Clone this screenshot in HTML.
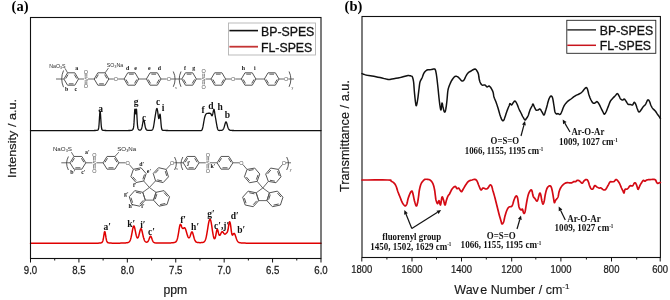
<!DOCTYPE html>
<html><head><meta charset="utf-8"><title>NMR and FTIR spectra of BP-SPES and FL-SPES</title>
<style>html,body{margin:0;padding:0;background:#fff;width:670px;height:300px;overflow:hidden}svg{display:block}</style>
</head><body>
<svg width="670" height="300" viewBox="0 0 670 300">
<rect width="670" height="300" fill="#fff"/>
<text x="11.6" y="11.3" font-family="'Liberation Serif', 'Times New Roman', serif" font-weight="bold" font-size="14.5">(a)</text>
<text x="344.6" y="11.3" font-family="'Liberation Serif', 'Times New Roman', serif" font-weight="bold" font-size="14.5">(b)</text>
<g><path d="M78.5 79 L74.85 85.2 L67.55 85.2 L63.9 79 L67.55 72.8 L74.85 72.8Z" fill="none" stroke="#555555" stroke-width="1.0"/><line x1="73.54" y1="83.85" x2="68.86" y2="83.85" stroke="#555555" stroke-width="1.0"/><line x1="65.73" y1="78.55" x2="68.07" y2="74.58" stroke="#555555" stroke-width="1.0"/><line x1="74.33" y1="74.58" x2="76.67" y2="78.55" stroke="#555555" stroke-width="1.0"/><text x="86" y="81" font-size="5.5" fill="#555" text-anchor="middle" font-family="'Liberation Sans', Arial, sans-serif" font-weight="normal">S</text><line x1="85.2" y1="76.8" x2="85.2" y2="73.9" stroke="#555555" stroke-width="0.7"/><line x1="86.8" y1="76.8" x2="86.8" y2="73.9" stroke="#555555" stroke-width="0.7"/><text x="86" y="73.68" font-size="5.5" fill="#555" text-anchor="middle" font-family="'Liberation Sans', Arial, sans-serif" font-weight="normal">O</text><line x1="85.2" y1="81.2" x2="85.2" y2="84.1" stroke="#555555" stroke-width="0.7"/><line x1="86.8" y1="81.2" x2="86.8" y2="84.1" stroke="#555555" stroke-width="0.7"/><text x="86" y="88.28" font-size="5.5" fill="#555" text-anchor="middle" font-family="'Liberation Sans', Arial, sans-serif" font-weight="normal">O</text><path d="M108.8 79 L105.15 85.2 L97.85 85.2 L94.2 79 L97.85 72.8 L105.15 72.8Z" fill="none" stroke="#555555" stroke-width="1.0"/><line x1="103.84" y1="83.85" x2="99.16" y2="83.85" stroke="#555555" stroke-width="1.0"/><line x1="96.03" y1="78.55" x2="98.37" y2="74.58" stroke="#555555" stroke-width="1.0"/><line x1="104.63" y1="74.58" x2="106.97" y2="78.55" stroke="#555555" stroke-width="1.0"/><text x="116" y="80.98" font-size="5.5" fill="#555" text-anchor="middle" font-family="'Liberation Sans', Arial, sans-serif" font-weight="normal">O</text><path d="M138.7 79 L135.05 85.2 L127.75 85.2 L124.1 79 L127.75 72.8 L135.05 72.8Z" fill="none" stroke="#555555" stroke-width="1.0"/><line x1="136.87" y1="79.45" x2="134.53" y2="83.42" stroke="#555555" stroke-width="1.0"/><line x1="128.27" y1="83.42" x2="125.93" y2="79.45" stroke="#555555" stroke-width="1.0"/><line x1="129.06" y1="74.15" x2="133.74" y2="74.15" stroke="#555555" stroke-width="1.0"/><path d="M161 79 L157.35 85.2 L150.05 85.2 L146.4 79 L150.05 72.8 L157.35 72.8Z" fill="none" stroke="#555555" stroke-width="1.0"/><line x1="159.17" y1="79.45" x2="156.83" y2="83.42" stroke="#555555" stroke-width="1.0"/><line x1="150.57" y1="83.42" x2="148.23" y2="79.45" stroke="#555555" stroke-width="1.0"/><line x1="151.36" y1="74.15" x2="156.04" y2="74.15" stroke="#555555" stroke-width="1.0"/><text x="168.9" y="80.98" font-size="5.5" fill="#555" text-anchor="middle" font-family="'Liberation Sans', Arial, sans-serif" font-weight="normal">O</text><path d="M196.4 79 L192.75 85.2 L185.45 85.2 L181.8 79 L185.45 72.8 L192.75 72.8Z" fill="none" stroke="#555555" stroke-width="1.0"/><line x1="194.57" y1="79.45" x2="192.23" y2="83.42" stroke="#555555" stroke-width="1.0"/><line x1="185.97" y1="83.42" x2="183.63" y2="79.45" stroke="#555555" stroke-width="1.0"/><line x1="186.76" y1="74.15" x2="191.44" y2="74.15" stroke="#555555" stroke-width="1.0"/><text x="203.6" y="81" font-size="5.5" fill="#555" text-anchor="middle" font-family="'Liberation Sans', Arial, sans-serif" font-weight="normal">S</text><line x1="202.8" y1="76.8" x2="202.8" y2="73.6" stroke="#555555" stroke-width="0.7"/><line x1="204.4" y1="76.8" x2="204.4" y2="73.6" stroke="#555555" stroke-width="0.7"/><text x="203.6" y="73.38" font-size="5.5" fill="#555" text-anchor="middle" font-family="'Liberation Sans', Arial, sans-serif" font-weight="normal">O</text><line x1="202.8" y1="81.2" x2="202.8" y2="84.4" stroke="#555555" stroke-width="0.7"/><line x1="204.4" y1="81.2" x2="204.4" y2="84.4" stroke="#555555" stroke-width="0.7"/><text x="203.6" y="88.58" font-size="5.5" fill="#555" text-anchor="middle" font-family="'Liberation Sans', Arial, sans-serif" font-weight="normal">O</text><path d="M225.6 79 L221.95 85.2 L214.65 85.2 L211 79 L214.65 72.8 L221.95 72.8Z" fill="none" stroke="#555555" stroke-width="1.0"/><line x1="223.77" y1="79.45" x2="221.43" y2="83.42" stroke="#555555" stroke-width="1.0"/><line x1="215.17" y1="83.42" x2="212.83" y2="79.45" stroke="#555555" stroke-width="1.0"/><line x1="215.96" y1="74.15" x2="220.64" y2="74.15" stroke="#555555" stroke-width="1.0"/><text x="233.1" y="80.98" font-size="5.5" fill="#555" text-anchor="middle" font-family="'Liberation Sans', Arial, sans-serif" font-weight="normal">O</text><path d="M255.9 79 L252.25 85.2 L244.95 85.2 L241.3 79 L244.95 72.8 L252.25 72.8Z" fill="none" stroke="#555555" stroke-width="1.0"/><line x1="254.07" y1="79.45" x2="251.73" y2="83.42" stroke="#555555" stroke-width="1.0"/><line x1="245.47" y1="83.42" x2="243.13" y2="79.45" stroke="#555555" stroke-width="1.0"/><line x1="246.26" y1="74.15" x2="250.94" y2="74.15" stroke="#555555" stroke-width="1.0"/><path d="M279 79 L275.35 85.2 L268.05 85.2 L264.4 79 L268.05 72.8 L275.35 72.8Z" fill="none" stroke="#555555" stroke-width="1.0"/><line x1="277.17" y1="79.45" x2="274.83" y2="83.42" stroke="#555555" stroke-width="1.0"/><line x1="268.57" y1="83.42" x2="266.23" y2="79.45" stroke="#555555" stroke-width="1.0"/><line x1="269.36" y1="74.15" x2="274.04" y2="74.15" stroke="#555555" stroke-width="1.0"/><text x="286.1" y="80.98" font-size="5.5" fill="#555" text-anchor="middle" font-family="'Liberation Sans', Arial, sans-serif" font-weight="normal">O</text><line x1="56" y1="79" x2="63.9" y2="79" stroke="#555555" stroke-width="0.9"/><line x1="78.5" y1="79" x2="84" y2="79" stroke="#555555" stroke-width="0.9"/><line x1="88" y1="79" x2="94.2" y2="79" stroke="#555555" stroke-width="0.9"/><line x1="108.8" y1="79" x2="113.9" y2="79" stroke="#555555" stroke-width="0.9"/><line x1="118.1" y1="79" x2="124.1" y2="79" stroke="#555555" stroke-width="0.9"/><line x1="138.7" y1="79" x2="146.4" y2="79" stroke="#555555" stroke-width="0.9"/><line x1="161" y1="79" x2="166.8" y2="79" stroke="#555555" stroke-width="0.9"/><line x1="171" y1="79" x2="181.8" y2="79" stroke="#555555" stroke-width="0.9"/><line x1="196.4" y1="79" x2="201.6" y2="79" stroke="#555555" stroke-width="0.9"/><line x1="205.6" y1="79" x2="211" y2="79" stroke="#555555" stroke-width="0.9"/><line x1="225.6" y1="79" x2="231" y2="79" stroke="#555555" stroke-width="0.9"/><line x1="235.2" y1="79" x2="241.3" y2="79" stroke="#555555" stroke-width="0.9"/><line x1="255.9" y1="79" x2="264.4" y2="79" stroke="#555555" stroke-width="0.9"/><line x1="279" y1="79" x2="284" y2="79" stroke="#555555" stroke-width="0.9"/><line x1="288.2" y1="79" x2="294" y2="79" stroke="#555555" stroke-width="0.9"/><line x1="67.55" y1="72.8" x2="65" y2="68.3" stroke="#555555" stroke-width="0.9"/><text x="57.3" y="67.5" font-size="5.3" fill="#2a2a2a" text-anchor="middle" font-family="'Liberation Sans', Arial, sans-serif" font-weight="normal">NaO<tspan font-size="3.4" dy="1">3</tspan><tspan dy="-1">S</tspan></text><line x1="105.15" y1="72.8" x2="108.4" y2="68.1" stroke="#555555" stroke-width="0.9"/><text x="115" y="67.3" font-size="5.3" fill="#2a2a2a" text-anchor="middle" font-family="'Liberation Sans', Arial, sans-serif" font-weight="normal">SO<tspan font-size="3.4" dy="1">3</tspan><tspan dy="-1">Na</tspan></text><path d="M63.52 70.5 Q59.92 78.85 63.52 87.2" fill="none" stroke="#3a3a3a" stroke-width="0.85"/><path d="M173.28 71.5 Q176.88 79.15 173.28 86.8" fill="none" stroke="#3a3a3a" stroke-width="0.85"/><path d="M181.02 71.5 Q177.42 79.15 181.02 86.8" fill="none" stroke="#3a3a3a" stroke-width="0.85"/><text x="176" y="88.5" font-size="3.6" fill="#333" text-anchor="middle" font-family="'Liberation Serif', 'Times New Roman', serif" font-weight="normal">x</text><path d="M289.08 71.5 Q292.68 79.15 289.08 86.8" fill="none" stroke="#3a3a3a" stroke-width="0.85"/><text x="292.5" y="89" font-size="3.6" fill="#333" text-anchor="middle" font-family="'Liberation Serif', 'Times New Roman', serif" font-weight="normal">y</text><text x="76.7" y="69.8" font-size="5.9" fill="#161616" text-anchor="middle" font-family="'Liberation Serif', 'Times New Roman', serif" font-weight="bold">a</text><text x="66.7" y="90.8" font-size="5.9" fill="#161616" text-anchor="middle" font-family="'Liberation Serif', 'Times New Roman', serif" font-weight="bold">b</text><text x="75.8" y="90.8" font-size="5.9" fill="#161616" text-anchor="middle" font-family="'Liberation Serif', 'Times New Roman', serif" font-weight="bold">c</text><text x="127.7" y="69.8" font-size="5.9" fill="#161616" text-anchor="middle" font-family="'Liberation Serif', 'Times New Roman', serif" font-weight="bold">d</text><text x="135.5" y="69.8" font-size="5.9" fill="#161616" text-anchor="middle" font-family="'Liberation Serif', 'Times New Roman', serif" font-weight="bold">e</text><text x="149.3" y="69.8" font-size="5.9" fill="#161616" text-anchor="middle" font-family="'Liberation Serif', 'Times New Roman', serif" font-weight="bold">e</text><text x="159.3" y="69.8" font-size="5.9" fill="#161616" text-anchor="middle" font-family="'Liberation Serif', 'Times New Roman', serif" font-weight="bold">d</text><text x="185" y="69.8" font-size="5.9" fill="#161616" text-anchor="middle" font-family="'Liberation Serif', 'Times New Roman', serif" font-weight="bold">f</text><text x="193.7" y="69.8" font-size="5.9" fill="#161616" text-anchor="middle" font-family="'Liberation Serif', 'Times New Roman', serif" font-weight="bold">g</text><text x="243.3" y="69.8" font-size="5.9" fill="#161616" text-anchor="middle" font-family="'Liberation Serif', 'Times New Roman', serif" font-weight="bold">h</text><text x="254.9" y="69.8" font-size="5.9" fill="#161616" text-anchor="middle" font-family="'Liberation Serif', 'Times New Roman', serif" font-weight="bold">i</text><path d="M85.8 162.8 L81.85 169.16 L73.95 169.16 L70 162.8 L73.95 156.44 L81.85 156.44Z" fill="none" stroke="#555555" stroke-width="1.0"/><line x1="80.43" y1="167.81" x2="75.37" y2="167.81" stroke="#555555" stroke-width="1.0"/><line x1="71.9" y1="162.29" x2="74.43" y2="158.22" stroke="#555555" stroke-width="1.0"/><line x1="81.37" y1="158.22" x2="83.9" y2="162.29" stroke="#555555" stroke-width="1.0"/><text x="94.4" y="164.8" font-size="5.5" fill="#555" text-anchor="middle" font-family="'Liberation Sans', Arial, sans-serif" font-weight="normal">S</text><line x1="93.6" y1="160.6" x2="93.6" y2="156.9" stroke="#555555" stroke-width="0.7"/><line x1="95.2" y1="160.6" x2="95.2" y2="156.9" stroke="#555555" stroke-width="0.7"/><text x="94.4" y="156.68" font-size="5.5" fill="#555" text-anchor="middle" font-family="'Liberation Sans', Arial, sans-serif" font-weight="normal">O</text><line x1="93.6" y1="165" x2="93.6" y2="168.7" stroke="#555555" stroke-width="0.7"/><line x1="95.2" y1="165" x2="95.2" y2="168.7" stroke="#555555" stroke-width="0.7"/><text x="94.4" y="172.88" font-size="5.5" fill="#555" text-anchor="middle" font-family="'Liberation Sans', Arial, sans-serif" font-weight="normal">O</text><path d="M118.9 162.8 L114.95 169.16 L107.05 169.16 L103.1 162.8 L107.05 156.44 L114.95 156.44Z" fill="none" stroke="#555555" stroke-width="1.0"/><line x1="113.53" y1="167.81" x2="108.47" y2="167.81" stroke="#555555" stroke-width="1.0"/><line x1="105" y1="162.29" x2="107.53" y2="158.22" stroke="#555555" stroke-width="1.0"/><line x1="114.47" y1="158.22" x2="117" y2="162.29" stroke="#555555" stroke-width="1.0"/><text x="127.7" y="164.78" font-size="5.5" fill="#555" text-anchor="middle" font-family="'Liberation Sans', Arial, sans-serif" font-weight="normal">O</text><line x1="61.3" y1="162.8" x2="70" y2="162.8" stroke="#555555" stroke-width="0.9"/><line x1="85.8" y1="162.8" x2="92.4" y2="162.8" stroke="#555555" stroke-width="0.9"/><line x1="96.4" y1="162.8" x2="103.1" y2="162.8" stroke="#555555" stroke-width="0.9"/><line x1="118.9" y1="162.8" x2="125.6" y2="162.8" stroke="#555555" stroke-width="0.9"/><line x1="73.95" y1="156.44" x2="71.4" y2="152.2" stroke="#555555" stroke-width="0.9"/><text x="62.4" y="151.2" font-size="6.2" fill="#2a2a2a" text-anchor="middle" font-family="'Liberation Sans', Arial, sans-serif" font-weight="normal">NaO<tspan font-size="3.8" dy="1">3</tspan><tspan dy="-1">S</tspan></text><line x1="114.95" y1="156.44" x2="118.8" y2="152.2" stroke="#555555" stroke-width="0.9"/><text x="126.7" y="151.3" font-size="6.2" fill="#2a2a2a" text-anchor="middle" font-family="'Liberation Sans', Arial, sans-serif" font-weight="normal">SO<tspan font-size="3.8" dy="1">3</tspan><tspan dy="-1">Na</tspan></text><path d="M143.7 181.01 L136.05 182.54 L130.9 176.68 L133.4 169.29 L141.05 167.76 L146.2 173.62Z" fill="none" stroke="#555555" stroke-width="1.0"/><line x1="136.14" y1="180.59" x2="132.84" y2="176.84" stroke="#555555" stroke-width="1.0"/><line x1="135.04" y1="170.34" x2="139.94" y2="169.36" stroke="#555555" stroke-width="1.0"/><line x1="144.47" y1="174.52" x2="142.87" y2="179.25" stroke="#555555" stroke-width="1.0"/><line x1="129.15" y1="164.45" x2="133.4" y2="169.29" stroke="#555555" stroke-width="0.9"/><line x1="143.7" y1="181.01" x2="149.4" y2="187.5" stroke="#555555" stroke-width="0.9"/><path d="M155.55 180.87 L153.24 173.42 L158.55 167.7 L166.15 169.43 L168.46 176.88 L163.15 182.6Z" fill="none" stroke="#555555" stroke-width="1.0"/><line x1="155.19" y1="173.31" x2="158.58" y2="169.64" stroke="#555555" stroke-width="1.0"/><line x1="165.28" y1="171.17" x2="166.75" y2="175.94" stroke="#555555" stroke-width="1.0"/><line x1="162.08" y1="180.97" x2="157.22" y2="179.87" stroke="#555555" stroke-width="1.0"/><line x1="170.8" y1="164.41" x2="166.15" y2="169.43" stroke="#555555" stroke-width="0.9"/><line x1="155.55" y1="180.87" x2="149.4" y2="187.5" stroke="#555555" stroke-width="0.9"/><path d="M149.4 187.5 L156.03 192.32 L153.5 200.12 L145.3 200.12 L142.77 192.32Z" fill="none" stroke="#555555" stroke-width="0.9"/><path d="M142.77 192.32 L145.3 200.12 L139.81 206.21 L131.79 204.51 L129.26 196.71 L134.75 190.61Z" fill="none" stroke="#555555" stroke-width="1.0"/><line x1="143.31" y1="200.31" x2="139.8" y2="204.21" stroke="#555555" stroke-width="1.0"/><line x1="132.62" y1="202.69" x2="131" y2="197.7" stroke="#555555" stroke-width="1.0"/><line x1="135.91" y1="192.24" x2="141.04" y2="193.33" stroke="#555555" stroke-width="1.0"/><path d="M156.03 192.32 L164.05 190.61 L169.54 196.71 L167.01 204.51 L158.99 206.21 L153.5 200.12Z" fill="none" stroke="#555555" stroke-width="1.0"/><line x1="164.04" y1="192.62" x2="167.55" y2="196.52" stroke="#555555" stroke-width="1.0"/><line x1="165.28" y1="203.49" x2="160.15" y2="204.58" stroke="#555555" stroke-width="1.0"/><line x1="155.24" y1="199.13" x2="156.86" y2="194.14" stroke="#555555" stroke-width="1.0"/><text x="172.1" y="164.78" font-size="5.5" fill="#555" text-anchor="middle" font-family="'Liberation Sans', Arial, sans-serif" font-weight="normal">O</text><path d="M199.05 162.8 L195.1 169.16 L187.2 169.16 L183.25 162.8 L187.2 156.44 L195.1 156.44Z" fill="none" stroke="#555555" stroke-width="1.0"/><line x1="193.68" y1="167.81" x2="188.62" y2="167.81" stroke="#555555" stroke-width="1.0"/><line x1="185.15" y1="162.29" x2="187.68" y2="158.22" stroke="#555555" stroke-width="1.0"/><line x1="194.62" y1="158.22" x2="197.15" y2="162.29" stroke="#555555" stroke-width="1.0"/><text x="207.8" y="164.8" font-size="5.5" fill="#555" text-anchor="middle" font-family="'Liberation Sans', Arial, sans-serif" font-weight="normal">S</text><line x1="207" y1="160.6" x2="207" y2="157" stroke="#555555" stroke-width="0.7"/><line x1="208.6" y1="160.6" x2="208.6" y2="157" stroke="#555555" stroke-width="0.7"/><text x="207.8" y="156.78" font-size="5.5" fill="#555" text-anchor="middle" font-family="'Liberation Sans', Arial, sans-serif" font-weight="normal">O</text><line x1="207" y1="165" x2="207" y2="168.6" stroke="#555555" stroke-width="0.7"/><line x1="208.6" y1="165" x2="208.6" y2="168.6" stroke="#555555" stroke-width="0.7"/><text x="207.8" y="172.78" font-size="5.5" fill="#555" text-anchor="middle" font-family="'Liberation Sans', Arial, sans-serif" font-weight="normal">O</text><path d="M232.9 162.8 L228.95 169.16 L221.05 169.16 L217.1 162.8 L221.05 156.44 L228.95 156.44Z" fill="none" stroke="#555555" stroke-width="1.0"/><line x1="227.53" y1="167.81" x2="222.47" y2="167.81" stroke="#555555" stroke-width="1.0"/><line x1="219" y1="162.29" x2="221.53" y2="158.22" stroke="#555555" stroke-width="1.0"/><line x1="228.47" y1="158.22" x2="231" y2="162.29" stroke="#555555" stroke-width="1.0"/><text x="241.4" y="164.78" font-size="5.5" fill="#555" text-anchor="middle" font-family="'Liberation Sans', Arial, sans-serif" font-weight="normal">O</text><line x1="174.2" y1="162.8" x2="183.25" y2="162.8" stroke="#555555" stroke-width="0.9"/><line x1="199.05" y1="162.8" x2="205.8" y2="162.8" stroke="#555555" stroke-width="0.9"/><line x1="209.8" y1="162.8" x2="217.1" y2="162.8" stroke="#555555" stroke-width="0.9"/><line x1="232.9" y1="162.8" x2="239.3" y2="162.8" stroke="#555555" stroke-width="0.9"/><path d="M257.15 181.35 L249.48 182.75 L244.43 176.8 L247.05 169.45 L254.72 168.05 L259.77 174Z" fill="none" stroke="#555555" stroke-width="1.0"/><line x1="249.6" y1="180.8" x2="246.36" y2="177" stroke="#555555" stroke-width="1.0"/><line x1="248.67" y1="170.53" x2="253.59" y2="169.63" stroke="#555555" stroke-width="1.0"/><line x1="258.03" y1="174.87" x2="256.35" y2="179.57" stroke="#555555" stroke-width="1.0"/><line x1="242.82" y1="164.48" x2="247.05" y2="169.45" stroke="#555555" stroke-width="0.9"/><line x1="257.15" y1="181.35" x2="262.8" y2="188" stroke="#555555" stroke-width="0.9"/><path d="M268.34 181.38 L265.67 174.05 L270.67 168.07 L278.36 169.42 L281.03 176.75 L276.03 182.73Z" fill="none" stroke="#555555" stroke-width="1.0"/><line x1="267.6" y1="173.84" x2="270.81" y2="170.02" stroke="#555555" stroke-width="1.0"/><line x1="277.57" y1="171.2" x2="279.28" y2="175.89" stroke="#555555" stroke-width="1.0"/><line x1="274.88" y1="181.15" x2="269.96" y2="180.29" stroke="#555555" stroke-width="1.0"/><line x1="282.49" y1="164.49" x2="278.36" y2="169.42" stroke="#555555" stroke-width="0.9"/><line x1="268.34" y1="181.38" x2="262.8" y2="188" stroke="#555555" stroke-width="0.9"/><path d="M262.8 188 L269.43 192.82 L266.9 200.62 L258.7 200.62 L256.17 192.82Z" fill="none" stroke="#555555" stroke-width="0.9"/><path d="M256.17 192.82 L258.7 200.62 L253.21 206.71 L245.19 205.01 L242.66 197.21 L248.15 191.11Z" fill="none" stroke="#555555" stroke-width="1.0"/><line x1="256.71" y1="200.81" x2="253.2" y2="204.71" stroke="#555555" stroke-width="1.0"/><line x1="246.02" y1="203.19" x2="244.4" y2="198.2" stroke="#555555" stroke-width="1.0"/><line x1="249.31" y1="192.74" x2="254.44" y2="193.83" stroke="#555555" stroke-width="1.0"/><path d="M269.43 192.82 L277.45 191.11 L282.94 197.21 L280.41 205.01 L272.39 206.71 L266.9 200.62Z" fill="none" stroke="#555555" stroke-width="1.0"/><line x1="277.44" y1="193.12" x2="280.95" y2="197.02" stroke="#555555" stroke-width="1.0"/><line x1="278.68" y1="203.99" x2="273.55" y2="205.08" stroke="#555555" stroke-width="1.0"/><line x1="268.64" y1="199.63" x2="270.26" y2="194.64" stroke="#555555" stroke-width="1.0"/><text x="283.9" y="164.78" font-size="5.5" fill="#555" text-anchor="middle" font-family="'Liberation Sans', Arial, sans-serif" font-weight="normal">O</text><line x1="286" y1="162.8" x2="291" y2="162.8" stroke="#555555" stroke-width="0.9"/><path d="M68.42 156.5 Q64.82 163.25 68.42 170" fill="none" stroke="#3a3a3a" stroke-width="0.85"/><path d="M174.58 157 Q178.18 163.5 174.58 170" fill="none" stroke="#3a3a3a" stroke-width="0.85"/><path d="M182.82 157 Q179.22 163.5 182.82 170" fill="none" stroke="#3a3a3a" stroke-width="0.85"/><text x="176.9" y="170" font-size="3.6" fill="#333" text-anchor="middle" font-family="'Liberation Serif', 'Times New Roman', serif" font-weight="normal">x</text><path d="M286.68 157 Q290.28 163.5 286.68 170" fill="none" stroke="#3a3a3a" stroke-width="0.85"/><text x="290.6" y="170.5" font-size="3.6" fill="#333" text-anchor="middle" font-family="'Liberation Serif', 'Times New Roman', serif" font-weight="normal">y</text><text x="87.3" y="153.5" font-size="5.9" fill="#161616" text-anchor="middle" font-family="'Liberation Serif', 'Times New Roman', serif" font-weight="bold">a′</text><text x="72.7" y="173.5" font-size="5.9" fill="#161616" text-anchor="middle" font-family="'Liberation Serif', 'Times New Roman', serif" font-weight="bold">b′</text><text x="83.3" y="173.5" font-size="5.9" fill="#161616" text-anchor="middle" font-family="'Liberation Serif', 'Times New Roman', serif" font-weight="bold">c′</text><text x="141.7" y="165.5" font-size="5.9" fill="#161616" text-anchor="middle" font-family="'Liberation Serif', 'Times New Roman', serif" font-weight="bold">d′</text><text x="149" y="172.8" font-size="5.9" fill="#161616" text-anchor="middle" font-family="'Liberation Serif', 'Times New Roman', serif" font-weight="bold">e′</text><text x="134.7" y="187.2" font-size="5.9" fill="#161616" text-anchor="middle" font-family="'Liberation Serif', 'Times New Roman', serif" font-weight="bold">f′</text><text x="126.4" y="195.5" font-size="5.9" fill="#161616" text-anchor="middle" font-family="'Liberation Serif', 'Times New Roman', serif" font-weight="bold">g′</text><text x="131" y="208.3" font-size="5.9" fill="#161616" text-anchor="middle" font-family="'Liberation Serif', 'Times New Roman', serif" font-weight="bold">h′</text><text x="143" y="208.3" font-size="5.9" fill="#161616" text-anchor="middle" font-family="'Liberation Serif', 'Times New Roman', serif" font-weight="bold">i′</text><text x="188.7" y="164.5" font-size="5.9" fill="#161616" text-anchor="middle" font-family="'Liberation Serif', 'Times New Roman', serif" font-weight="bold">j′</text><text x="212.9" y="167.8" font-size="5.9" fill="#161616" text-anchor="middle" font-family="'Liberation Serif', 'Times New Roman', serif" font-weight="bold">k′</text></g>
<path d="M30.5 130.6 L30.75 130.6 L31 130.6 L31.25 130.6 L31.5 130.6 L31.75 130.6 L32 130.6 L32.25 130.6 L32.5 130.6 L32.75 130.6 L33 130.6 L33.25 130.6 L33.5 130.6 L33.75 130.6 L34 130.6 L34.25 130.6 L34.5 130.6 L34.75 130.6 L35 130.6 L35.25 130.6 L35.5 130.6 L35.75 130.6 L36 130.6 L36.25 130.6 L36.5 130.6 L36.75 130.6 L37 130.6 L37.25 130.6 L37.5 130.6 L37.75 130.6 L38 130.6 L38.25 130.6 L38.5 130.6 L38.75 130.6 L39 130.6 L39.25 130.6 L39.5 130.6 L39.75 130.6 L40 130.6 L40.25 130.6 L40.5 130.6 L40.75 130.6 L41 130.6 L41.25 130.6 L41.5 130.6 L41.75 130.6 L42 130.6 L42.25 130.6 L42.5 130.6 L42.75 130.6 L43 130.6 L43.25 130.6 L43.5 130.6 L43.75 130.6 L44 130.6 L44.25 130.6 L44.5 130.6 L44.75 130.6 L45 130.6 L45.25 130.6 L45.5 130.6 L45.75 130.6 L46 130.6 L46.25 130.6 L46.5 130.6 L46.75 130.6 L47 130.6 L47.25 130.6 L47.5 130.6 L47.75 130.6 L48 130.6 L48.25 130.6 L48.5 130.6 L48.75 130.6 L49 130.6 L49.25 130.6 L49.5 130.6 L49.75 130.6 L50 130.6 L50.25 130.6 L50.5 130.6 L50.75 130.6 L51 130.6 L51.25 130.6 L51.5 130.6 L51.75 130.6 L52 130.6 L52.25 130.6 L52.5 130.6 L52.75 130.6 L53 130.6 L53.25 130.6 L53.5 130.6 L53.75 130.6 L54 130.6 L54.25 130.6 L54.5 130.6 L54.75 130.6 L55 130.6 L55.25 130.6 L55.5 130.6 L55.75 130.6 L56 130.6 L56.25 130.6 L56.5 130.6 L56.75 130.6 L57 130.6 L57.25 130.6 L57.5 130.6 L57.75 130.6 L58 130.6 L58.25 130.6 L58.5 130.6 L58.75 130.6 L59 130.6 L59.25 130.6 L59.5 130.6 L59.75 130.6 L60 130.6 L60.25 130.6 L60.5 130.6 L60.75 130.6 L61 130.6 L61.25 130.6 L61.5 130.6 L61.75 130.6 L62 130.6 L62.25 130.6 L62.5 130.6 L62.75 130.6 L63 130.6 L63.25 130.6 L63.5 130.6 L63.75 130.6 L64 130.6 L64.25 130.6 L64.5 130.6 L64.75 130.6 L65 130.6 L65.25 130.6 L65.5 130.6 L65.75 130.6 L66 130.6 L66.25 130.6 L66.5 130.6 L66.75 130.6 L67 130.6 L67.25 130.6 L67.5 130.6 L67.75 130.6 L68 130.6 L68.25 130.6 L68.5 130.6 L68.75 130.6 L69 130.6 L69.25 130.59 L69.5 130.59 L69.75 130.59 L70 130.59 L70.25 130.59 L70.5 130.59 L70.75 130.59 L71 130.59 L71.25 130.59 L71.5 130.59 L71.75 130.59 L72 130.59 L72.25 130.59 L72.5 130.59 L72.75 130.59 L73 130.59 L73.25 130.59 L73.5 130.59 L73.75 130.59 L74 130.59 L74.25 130.59 L74.5 130.59 L74.75 130.59 L75 130.59 L75.25 130.59 L75.5 130.59 L75.75 130.59 L76 130.59 L76.25 130.59 L76.5 130.59 L76.75 130.59 L77 130.59 L77.25 130.59 L77.5 130.59 L77.75 130.59 L78 130.59 L78.25 130.59 L78.5 130.59 L78.75 130.59 L79 130.59 L79.25 130.59 L79.5 130.59 L79.75 130.59 L80 130.59 L80.25 130.59 L80.5 130.59 L80.75 130.59 L81 130.59 L81.25 130.59 L81.5 130.59 L81.75 130.59 L82 130.59 L82.25 130.59 L82.5 130.59 L82.75 130.59 L83 130.59 L83.25 130.59 L83.5 130.59 L83.75 130.59 L84 130.59 L84.25 130.59 L84.5 130.59 L84.75 130.59 L85 130.59 L85.25 130.58 L85.5 130.58 L85.75 130.58 L86 130.58 L86.25 130.58 L86.5 130.58 L86.75 130.58 L87 130.58 L87.25 130.58 L87.5 130.58 L87.75 130.58 L88 130.58 L88.25 130.58 L88.5 130.58 L88.75 130.58 L89 130.58 L89.25 130.57 L89.5 130.57 L89.75 130.57 L90 130.57 L90.25 130.57 L90.5 130.57 L90.75 130.57 L91 130.57 L91.25 130.56 L91.5 130.56 L91.75 130.56 L92 130.56 L92.25 130.55 L92.5 130.55 L92.75 130.55 L93 130.55 L93.25 130.54 L93.5 130.54 L93.75 130.53 L94 130.53 L94.25 130.52 L94.5 130.52 L94.75 130.51 L95 130.5 L95.25 130.49 L95.5 130.48 L95.75 130.47 L96 130.45 L96.25 130.43 L96.5 130.41 L96.75 130.38 L97 130.35 L97.25 130.3 L97.5 130.24 L97.75 130.15 L98 129.96 L98.25 129.59 L98.5 128.82 L98.75 127.38 L99 124.98 L99.25 121.54 L99.5 117.4 L99.75 113.48 L100 111.12 L100.25 111.41 L100.5 114.19 L100.75 118.25 L101 122.3 L101.25 125.55 L101.5 127.74 L101.75 129.02 L102 129.68 L102.25 130.01 L102.5 130.17 L102.75 130.26 L103 130.31 L103.25 130.35 L103.5 130.39 L103.75 130.41 L104 130.43 L104.25 130.45 L104.5 130.47 L104.75 130.48 L105 130.49 L105.25 130.5 L105.5 130.51 L105.75 130.51 L106 130.52 L106.25 130.53 L106.5 130.53 L106.75 130.53 L107 130.54 L107.25 130.54 L107.5 130.55 L107.75 130.55 L108 130.55 L108.25 130.55 L108.5 130.55 L108.75 130.56 L109 130.56 L109.25 130.56 L109.5 130.56 L109.75 130.56 L110 130.56 L110.25 130.56 L110.5 130.57 L110.75 130.57 L111 130.57 L111.25 130.57 L111.5 130.57 L111.75 130.57 L112 130.57 L112.25 130.57 L112.5 130.57 L112.75 130.57 L113 130.57 L113.25 130.57 L113.5 130.57 L113.75 130.57 L114 130.57 L114.25 130.57 L114.5 130.57 L114.75 130.57 L115 130.57 L115.25 130.57 L115.5 130.57 L115.75 130.57 L116 130.57 L116.25 130.57 L116.5 130.57 L116.75 130.57 L117 130.57 L117.25 130.57 L117.5 130.57 L117.75 130.57 L118 130.57 L118.25 130.57 L118.5 130.57 L118.75 130.57 L119 130.57 L119.25 130.57 L119.5 130.57 L119.75 130.57 L120 130.57 L120.25 130.57 L120.5 130.57 L120.75 130.57 L121 130.57 L121.25 130.57 L121.5 130.57 L121.75 130.57 L122 130.57 L122.25 130.57 L122.5 130.57 L122.75 130.57 L123 130.56 L123.25 130.56 L123.5 130.56 L123.75 130.56 L124 130.56 L124.25 130.56 L124.5 130.56 L124.75 130.56 L125 130.56 L125.25 130.55 L125.5 130.55 L125.75 130.55 L126 130.55 L126.25 130.55 L126.5 130.55 L126.75 130.54 L127 130.54 L127.25 130.54 L127.5 130.54 L127.75 130.53 L128 130.53 L128.25 130.53 L128.5 130.52 L128.75 130.52 L129 130.51 L129.25 130.51 L129.5 130.5 L129.75 130.49 L130 130.49 L130.25 130.48 L130.5 130.46 L130.75 130.45 L131 130.43 L131.25 130.39 L131.5 130.35 L131.75 130.29 L132 130.19 L132.25 130.06 L132.5 129.86 L132.75 129.59 L133 129.21 L133.25 128.63 L133.5 127.66 L133.75 125.91 L134 122.89 L134.25 118.44 L134.5 113.35 L134.75 109.58 L135 109.09 L135.25 111.31 L135.5 113.6 L135.75 113.84 L136 111.84 L136.25 109.37 L136.5 109.17 L136.75 112.38 L137 117.38 L137.25 122.06 L137.5 125.37 L137.75 127.32 L138 128.4 L138.25 129.02 L138.5 129.42 L138.75 129.7 L139 129.89 L139.25 130.01 L139.5 130.09 L139.75 130.13 L140 130.13 L140.25 130.09 L140.5 130.01 L140.75 129.86 L141 129.61 L141.25 129.23 L141.5 128.69 L141.75 127.93 L142 126.95 L142.25 125.76 L142.5 124.41 L142.75 123 L143 121.67 L143.25 120.6 L143.5 119.97 L143.75 119.92 L144 120.44 L144.25 121.43 L144.5 122.73 L144.75 124.14 L145 125.51 L145.25 126.75 L145.5 127.77 L145.75 128.57 L146 129.17 L146.25 129.58 L146.5 129.86 L146.75 130.04 L147 130.15 L147.25 130.22 L147.5 130.27 L147.75 130.3 L148 130.32 L148.25 130.33 L148.5 130.34 L148.75 130.35 L149 130.35 L149.25 130.35 L149.5 130.36 L149.75 130.35 L150 130.35 L150.25 130.34 L150.5 130.34 L150.75 130.33 L151 130.31 L151.25 130.29 L151.5 130.25 L151.75 130.19 L152 130.09 L152.25 129.92 L152.5 129.66 L152.75 129.25 L153 128.66 L153.25 127.85 L153.5 126.8 L153.75 125.5 L154 124 L154.25 122.35 L154.5 120.64 L154.75 118.95 L155 117.32 L155.25 115.76 L155.5 114.25 L155.75 112.77 L156 111.35 L156.25 110.09 L156.5 109.1 L156.75 108.53 L157 108.51 L157.25 109.11 L157.5 110.3 L157.75 111.97 L158 113.91 L158.25 115.87 L158.5 117.52 L158.75 118.51 L159 118.58 L159.25 117.71 L159.5 116.19 L159.75 114.69 L160 114.05 L160.25 114.86 L160.5 117.11 L160.75 120.19 L161 123.33 L161.25 125.97 L161.5 127.86 L161.75 129.04 L162 129.7 L162.25 130.03 L162.5 130.19 L162.75 130.27 L163 130.31 L163.25 130.34 L163.5 130.37 L163.75 130.39 L164 130.4 L164.25 130.42 L164.5 130.43 L164.75 130.44 L165 130.45 L165.25 130.46 L165.5 130.47 L165.75 130.48 L166 130.49 L166.25 130.49 L166.5 130.5 L166.75 130.5 L167 130.51 L167.25 130.51 L167.5 130.52 L167.75 130.52 L168 130.52 L168.25 130.53 L168.5 130.53 L168.75 130.53 L169 130.54 L169.25 130.54 L169.5 130.54 L169.75 130.54 L170 130.54 L170.25 130.55 L170.5 130.55 L170.75 130.55 L171 130.55 L171.25 130.55 L171.5 130.55 L171.75 130.56 L172 130.56 L172.25 130.56 L172.5 130.56 L172.75 130.56 L173 130.56 L173.25 130.56 L173.5 130.56 L173.75 130.56 L174 130.57 L174.25 130.57 L174.5 130.57 L174.75 130.57 L175 130.57 L175.25 130.57 L175.5 130.57 L175.75 130.57 L176 130.57 L176.25 130.57 L176.5 130.57 L176.75 130.57 L177 130.57 L177.25 130.57 L177.5 130.57 L177.75 130.58 L178 130.58 L178.25 130.58 L178.5 130.58 L178.75 130.58 L179 130.58 L179.25 130.58 L179.5 130.58 L179.75 130.58 L180 130.58 L180.25 130.58 L180.5 130.58 L180.75 130.58 L181 130.58 L181.25 130.58 L181.5 130.58 L181.75 130.58 L182 130.58 L182.25 130.58 L182.5 130.58 L182.75 130.58 L183 130.58 L183.25 130.58 L183.5 130.58 L183.75 130.58 L184 130.58 L184.25 130.58 L184.5 130.58 L184.75 130.58 L185 130.58 L185.25 130.58 L185.5 130.58 L185.75 130.58 L186 130.58 L186.25 130.58 L186.5 130.58 L186.75 130.58 L187 130.58 L187.25 130.58 L187.5 130.59 L187.75 130.59 L188 130.59 L188.25 130.59 L188.5 130.59 L188.75 130.59 L189 130.59 L189.25 130.59 L189.5 130.59 L189.75 130.59 L190 130.59 L190.25 130.59 L190.5 130.59 L190.75 130.59 L191 130.59 L191.25 130.59 L191.5 130.59 L191.75 130.59 L192 130.59 L192.25 130.59 L192.5 130.59 L192.75 130.59 L193 130.59 L193.25 130.59 L193.5 130.59 L193.75 130.59 L194 130.59 L194.25 130.59 L194.5 130.59 L194.75 130.59 L195 130.59 L195.25 130.59 L195.5 130.59 L195.75 130.59 L196 130.59 L196.25 130.59 L196.5 130.59 L196.75 130.59 L197 130.59 L197.25 130.59 L197.5 130.59 L197.75 130.59 L198 130.59 L198.25 130.59 L198.5 130.59 L198.75 130.59 L199 130.59 L199.25 130.59 L199.5 130.58 L199.75 130.58 L200 130.58 L200.25 130.58 L200.5 130.58 L200.75 130.58 L201 130.56 L201.25 130.51 L201.5 130.4 L201.75 130.2 L202 129.86 L202.25 129.33 L202.5 128.57 L202.75 127.6 L203 126.41 L203.25 125.07 L203.5 123.63 L203.75 122.17 L204 120.74 L204.25 119.41 L204.5 118.2 L204.75 117.15 L205 116.26 L205.25 115.52 L205.5 114.93 L205.75 114.47 L206 114.11 L206.25 113.85 L206.5 113.65 L206.75 113.52 L207 113.42 L207.25 113.36 L207.5 113.32 L207.75 113.3 L208 113.28 L208.25 113.27 L208.5 113.27 L208.75 113.26 L209 113.26 L209.25 113.26 L209.5 113.26 L209.75 113.26 L210 113.28 L210.25 113.34 L210.5 113.46 L210.75 113.71 L211 114.1 L211.25 114.62 L211.5 115.18 L211.75 115.61 L212 115.74 L212.25 115.49 L212.5 114.87 L212.75 113.96 L213 112.84 L213.25 111.59 L213.5 110.39 L213.75 109.51 L214 109.34 L214.25 110.05 L214.5 111.43 L214.75 113.11 L215 114.77 L215.25 116.32 L215.5 117.75 L215.75 119.15 L216 120.57 L216.25 122.04 L216.5 123.52 L216.75 124.97 L217 126.32 L217.25 127.51 L217.5 128.49 L217.75 129.24 L218 129.77 L218.25 130.11 L218.5 130.31 L218.75 130.42 L219 130.46 L219.25 130.48 L219.5 130.48 L219.75 130.47 L220 130.47 L220.25 130.46 L220.5 130.45 L220.75 130.43 L221 130.42 L221.25 130.39 L221.5 130.36 L221.75 130.32 L222 130.25 L222.25 130.16 L222.5 130.03 L222.75 129.84 L223 129.59 L223.25 129.24 L223.5 128.8 L223.75 128.24 L224 127.56 L224.25 126.77 L224.5 125.89 L224.75 124.97 L225 124.06 L225.25 123.22 L225.5 122.54 L225.75 122.08 L226 121.91 L226.25 122.06 L226.5 122.49 L226.75 123.16 L227 123.99 L227.25 124.9 L227.5 125.82 L227.75 126.7 L228 127.5 L228.25 128.19 L228.5 128.76 L228.75 129.22 L229 129.57 L229.25 129.83 L229.5 130.02 L229.75 130.16 L230 130.25 L230.25 130.32 L230.5 130.37 L230.75 130.4 L231 130.42 L231.25 130.44 L231.5 130.46 L231.75 130.47 L232 130.48 L232.25 130.49 L232.5 130.5 L232.75 130.5 L233 130.51 L233.25 130.51 L233.5 130.52 L233.75 130.52 L234 130.53 L234.25 130.53 L234.5 130.54 L234.75 130.54 L235 130.54 L235.25 130.55 L235.5 130.55 L235.75 130.55 L236 130.55 L236.25 130.56 L236.5 130.56 L236.75 130.56 L237 130.56 L237.25 130.56 L237.5 130.56 L237.75 130.57 L238 130.57 L238.25 130.57 L238.5 130.57 L238.75 130.57 L239 130.57 L239.25 130.57 L239.5 130.57 L239.75 130.57 L240 130.57 L240.25 130.58 L240.5 130.58 L240.75 130.58 L241 130.58 L241.25 130.58 L241.5 130.58 L241.75 130.58 L242 130.58 L242.25 130.58 L242.5 130.58 L242.75 130.58 L243 130.58 L243.25 130.58 L243.5 130.58 L243.75 130.58 L244 130.58 L244.25 130.58 L244.5 130.58 L244.75 130.59 L245 130.59 L245.25 130.59 L245.5 130.59 L245.75 130.59 L246 130.59 L246.25 130.59 L246.5 130.59 L246.75 130.59 L247 130.59 L247.25 130.59 L247.5 130.59 L247.75 130.59 L248 130.59 L248.25 130.59 L248.5 130.59 L248.75 130.59 L249 130.59 L249.25 130.59 L249.5 130.59 L249.75 130.59 L250 130.59 L250.25 130.59 L250.5 130.59 L250.75 130.59 L251 130.59 L251.25 130.59 L251.5 130.59 L251.75 130.59 L252 130.59 L252.25 130.59 L252.5 130.59 L252.75 130.59 L253 130.59 L253.25 130.59 L253.5 130.59 L253.75 130.59 L254 130.59 L254.25 130.59 L254.5 130.59 L254.75 130.59 L255 130.59 L255.25 130.59 L255.5 130.59 L255.75 130.59 L256 130.59 L256.25 130.59 L256.5 130.59 L256.75 130.59 L257 130.59 L257.25 130.59 L257.5 130.59 L257.75 130.59 L258 130.59 L258.25 130.59 L258.5 130.59 L258.75 130.59 L259 130.59 L259.25 130.59 L259.5 130.59 L259.75 130.59 L260 130.59 L260.25 130.59 L260.5 130.59 L260.75 130.59 L261 130.59 L261.25 130.59 L261.5 130.6 L261.75 130.6 L262 130.6 L262.25 130.6 L262.5 130.6 L262.75 130.6 L263 130.6 L263.25 130.6 L263.5 130.6 L263.75 130.6 L264 130.6 L264.25 130.6 L264.5 130.6 L264.75 130.6 L265 130.6 L265.25 130.6 L265.5 130.6 L265.75 130.6 L266 130.6 L266.25 130.6 L266.5 130.6 L266.75 130.6 L267 130.6 L267.25 130.6 L267.5 130.6 L267.75 130.6 L268 130.6 L268.25 130.6 L268.5 130.6 L268.75 130.6 L269 130.6 L269.25 130.6 L269.5 130.6 L269.75 130.6 L270 130.6 L270.25 130.6 L270.5 130.6 L270.75 130.6 L271 130.6 L271.25 130.6 L271.5 130.6 L271.75 130.6 L272 130.6 L272.25 130.6 L272.5 130.6 L272.75 130.6 L273 130.6 L273.25 130.6 L273.5 130.6 L273.75 130.6 L274 130.6 L274.25 130.6 L274.5 130.6 L274.75 130.6 L275 130.6 L275.25 130.6 L275.5 130.6 L275.75 130.6 L276 130.6 L276.25 130.6 L276.5 130.6 L276.75 130.6 L277 130.6 L277.25 130.6 L277.5 130.6 L277.75 130.6 L278 130.6 L278.25 130.6 L278.5 130.6 L278.75 130.6 L279 130.6 L279.25 130.6 L279.5 130.6 L279.75 130.6 L280 130.6 L280.25 130.6 L280.5 130.6 L280.75 130.6 L281 130.6 L281.25 130.6 L281.5 130.6 L281.75 130.6 L282 130.6 L282.25 130.6 L282.5 130.6 L282.75 130.6 L283 130.6 L283.25 130.6 L283.5 130.6 L283.75 130.6 L284 130.6 L284.25 130.6 L284.5 130.6 L284.75 130.6 L285 130.6 L285.25 130.6 L285.5 130.6 L285.75 130.6 L286 130.6 L286.25 130.6 L286.5 130.6 L286.75 130.6 L287 130.6 L287.25 130.6 L287.5 130.6 L287.75 130.6 L288 130.6 L288.25 130.6 L288.5 130.6 L288.75 130.6 L289 130.6 L289.25 130.6 L289.5 130.6 L289.75 130.6 L290 130.6 L290.25 130.6 L290.5 130.6 L290.75 130.6 L291 130.6 L291.25 130.6 L291.5 130.6 L291.75 130.6 L292 130.6 L292.25 130.6 L292.5 130.6 L292.75 130.6 L293 130.6 L293.25 130.6 L293.5 130.6 L293.75 130.6 L294 130.6 L294.25 130.6 L294.5 130.6 L294.75 130.6 L295 130.6 L295.25 130.6 L295.5 130.6 L295.75 130.6 L296 130.6 L296.25 130.6 L296.5 130.6 L296.75 130.6 L297 130.6 L297.25 130.6 L297.5 130.6 L297.75 130.6 L298 130.6 L298.25 130.6 L298.5 130.6 L298.75 130.6 L299 130.6 L299.25 130.6 L299.5 130.6 L299.75 130.6 L300 130.6 L300.25 130.6 L300.5 130.6 L300.75 130.6 L301 130.6 L301.25 130.6 L301.5 130.6 L301.75 130.6 L302 130.6 L302.25 130.6 L302.5 130.6 L302.75 130.6 L303 130.6 L303.25 130.6 L303.5 130.6 L303.75 130.6 L304 130.6 L304.25 130.6 L304.5 130.6 L304.75 130.6 L305 130.6 L305.25 130.6 L305.5 130.6 L305.75 130.6 L306 130.6 L306.25 130.6 L306.5 130.6 L306.75 130.6 L307 130.6 L307.25 130.6 L307.5 130.6 L307.75 130.6 L308 130.6 L308.25 130.6 L308.5 130.6 L308.75 130.6 L309 130.6 L309.25 130.6 L309.5 130.6 L309.75 130.6 L310 130.6 L310.25 130.6 L310.5 130.6 L310.75 130.6 L311 130.6 L311.25 130.6 L311.5 130.6 L311.75 130.6 L312 130.6 L312.25 130.6 L312.5 130.6 L312.75 130.6 L313 130.6 L313.25 130.6 L313.5 130.6 L313.75 130.6 L314 130.6 L314.25 130.6 L314.5 130.6 L314.75 130.6 L315 130.6 L315.25 130.6 L315.5 130.6 L315.75 130.6 L316 130.6 L316.25 130.6 L316.5 130.6 L316.75 130.6 L317 130.6 L317.25 130.6 L317.5 130.6 L317.75 130.6 L318 130.6 L318.25 130.6 L318.5 130.6 L318.75 130.6 L319 130.6 L319.25 130.6 L319.5 130.6 L319.75 130.6 L320 130.6 L320.25 130.6 L320.5 130.6 L320.75 130.6 L321 130.6" fill="none" stroke="#111" stroke-width="1.3" stroke-linejoin="round" stroke-linecap="round" />
<path d="M30.5 243.34 L30.75 243.34 L31 243.34 L31.25 243.34 L31.5 243.34 L31.75 243.34 L32 243.34 L32.25 243.34 L32.5 243.34 L32.75 243.34 L33 243.34 L33.25 243.34 L33.5 243.34 L33.75 243.34 L34 243.34 L34.25 243.34 L34.5 243.34 L34.75 243.34 L35 243.34 L35.25 243.34 L35.5 243.34 L35.75 243.34 L36 243.34 L36.25 243.34 L36.5 243.34 L36.75 243.34 L37 243.34 L37.25 243.34 L37.5 243.34 L37.75 243.34 L38 243.34 L38.25 243.34 L38.5 243.34 L38.75 243.34 L39 243.34 L39.25 243.34 L39.5 243.34 L39.75 243.34 L40 243.34 L40.25 243.34 L40.5 243.34 L40.75 243.34 L41 243.34 L41.25 243.34 L41.5 243.34 L41.75 243.34 L42 243.34 L42.25 243.34 L42.5 243.34 L42.75 243.34 L43 243.34 L43.25 243.34 L43.5 243.34 L43.75 243.34 L44 243.34 L44.25 243.34 L44.5 243.34 L44.75 243.34 L45 243.34 L45.25 243.34 L45.5 243.34 L45.75 243.34 L46 243.34 L46.25 243.34 L46.5 243.34 L46.75 243.34 L47 243.34 L47.25 243.34 L47.5 243.34 L47.75 243.34 L48 243.34 L48.25 243.34 L48.5 243.34 L48.75 243.34 L49 243.34 L49.25 243.34 L49.5 243.34 L49.75 243.34 L50 243.34 L50.25 243.34 L50.5 243.34 L50.75 243.34 L51 243.34 L51.25 243.34 L51.5 243.34 L51.75 243.34 L52 243.33 L52.25 243.33 L52.5 243.33 L52.75 243.33 L53 243.33 L53.25 243.33 L53.5 243.33 L53.75 243.33 L54 243.33 L54.25 243.33 L54.5 243.33 L54.75 243.33 L55 243.33 L55.25 243.33 L55.5 243.33 L55.75 243.33 L56 243.33 L56.25 243.33 L56.5 243.33 L56.75 243.33 L57 243.33 L57.25 243.33 L57.5 243.33 L57.75 243.33 L58 243.33 L58.25 243.33 L58.5 243.33 L58.75 243.33 L59 243.33 L59.25 243.33 L59.5 243.33 L59.75 243.33 L60 243.33 L60.25 243.33 L60.5 243.33 L60.75 243.33 L61 243.33 L61.25 243.33 L61.5 243.33 L61.75 243.33 L62 243.33 L62.25 243.33 L62.5 243.33 L62.75 243.33 L63 243.33 L63.25 243.33 L63.5 243.33 L63.75 243.33 L64 243.33 L64.25 243.33 L64.5 243.33 L64.75 243.33 L65 243.33 L65.25 243.33 L65.5 243.33 L65.75 243.33 L66 243.33 L66.25 243.33 L66.5 243.33 L66.75 243.33 L67 243.33 L67.25 243.33 L67.5 243.33 L67.75 243.33 L68 243.33 L68.25 243.33 L68.5 243.33 L68.75 243.33 L69 243.33 L69.25 243.33 L69.5 243.33 L69.75 243.33 L70 243.33 L70.25 243.33 L70.5 243.33 L70.75 243.33 L71 243.33 L71.25 243.33 L71.5 243.32 L71.75 243.32 L72 243.32 L72.25 243.32 L72.5 243.32 L72.75 243.32 L73 243.32 L73.25 243.32 L73.5 243.32 L73.75 243.32 L74 243.32 L74.25 243.32 L74.5 243.32 L74.75 243.32 L75 243.32 L75.25 243.32 L75.5 243.32 L75.75 243.32 L76 243.32 L76.25 243.32 L76.5 243.32 L76.75 243.32 L77 243.32 L77.25 243.32 L77.5 243.32 L77.75 243.32 L78 243.32 L78.25 243.32 L78.5 243.32 L78.75 243.32 L79 243.32 L79.25 243.32 L79.5 243.32 L79.75 243.32 L80 243.32 L80.25 243.31 L80.5 243.31 L80.75 243.31 L81 243.31 L81.25 243.31 L81.5 243.31 L81.75 243.31 L82 243.31 L82.25 243.31 L82.5 243.31 L82.75 243.31 L83 243.31 L83.25 243.31 L83.5 243.31 L83.75 243.31 L84 243.31 L84.25 243.31 L84.5 243.31 L84.75 243.31 L85 243.31 L85.25 243.3 L85.5 243.3 L85.75 243.3 L86 243.3 L86.25 243.3 L86.5 243.3 L86.75 243.3 L87 243.3 L87.25 243.3 L87.5 243.3 L87.75 243.3 L88 243.3 L88.25 243.29 L88.5 243.29 L88.75 243.29 L89 243.29 L89.25 243.29 L89.5 243.29 L89.75 243.29 L90 243.29 L90.25 243.29 L90.5 243.28 L90.75 243.28 L91 243.28 L91.25 243.28 L91.5 243.28 L91.75 243.28 L92 243.27 L92.25 243.27 L92.5 243.27 L92.75 243.27 L93 243.27 L93.25 243.26 L93.5 243.26 L93.75 243.26 L94 243.26 L94.25 243.25 L94.5 243.25 L94.75 243.25 L95 243.24 L95.25 243.24 L95.5 243.23 L95.75 243.23 L96 243.22 L96.25 243.22 L96.5 243.21 L96.75 243.21 L97 243.2 L97.25 243.19 L97.5 243.18 L97.75 243.17 L98 243.16 L98.25 243.15 L98.5 243.14 L98.75 243.12 L99 243.11 L99.25 243.09 L99.5 243.07 L99.75 243.05 L100 243.02 L100.25 242.99 L100.5 242.95 L100.75 242.91 L101 242.86 L101.25 242.79 L101.5 242.69 L101.75 242.56 L102 242.36 L102.25 242.07 L102.5 241.64 L102.75 241.02 L103 240.18 L103.25 239.07 L103.5 237.72 L103.75 236.16 L104 234.54 L104.25 233.04 L104.5 231.95 L104.75 231.54 L105 231.94 L105.25 233.03 L105.5 234.53 L105.75 236.16 L106 237.71 L106.25 239.06 L106.5 240.17 L106.75 241.01 L107 241.63 L107.25 242.05 L107.5 242.34 L107.75 242.54 L108 242.67 L108.25 242.76 L108.5 242.83 L108.75 242.88 L109 242.93 L109.25 242.96 L109.5 242.99 L109.75 243.01 L110 243.04 L110.25 243.05 L110.5 243.07 L110.75 243.08 L111 243.1 L111.25 243.11 L111.5 243.12 L111.75 243.13 L112 243.13 L112.25 243.14 L112.5 243.14 L112.75 243.15 L113 243.15 L113.25 243.16 L113.5 243.16 L113.75 243.16 L114 243.17 L114.25 243.17 L114.5 243.17 L114.75 243.17 L115 243.17 L115.25 243.17 L115.5 243.17 L115.75 243.17 L116 243.17 L116.25 243.17 L116.5 243.17 L116.75 243.17 L117 243.17 L117.25 243.17 L117.5 243.16 L117.75 243.16 L118 243.16 L118.25 243.16 L118.5 243.15 L118.75 243.15 L119 243.15 L119.25 243.14 L119.5 243.14 L119.75 243.14 L120 243.13 L120.25 243.13 L120.5 243.12 L120.75 243.12 L121 243.11 L121.25 243.11 L121.5 243.1 L121.75 243.09 L122 243.09 L122.25 243.08 L122.5 243.07 L122.75 243.06 L123 243.05 L123.25 243.04 L123.5 243.03 L123.75 243.02 L124 243.01 L124.25 242.99 L124.5 242.98 L124.75 242.96 L125 242.95 L125.25 242.93 L125.5 242.91 L125.75 242.89 L126 242.86 L126.25 242.84 L126.5 242.81 L126.75 242.78 L127 242.74 L127.25 242.7 L127.5 242.65 L127.75 242.59 L128 242.52 L128.25 242.43 L128.5 242.32 L128.75 242.18 L129 242 L129.25 241.76 L129.5 241.47 L129.75 241.1 L130 240.65 L130.25 240.09 L130.5 239.42 L130.75 238.62 L131 237.69 L131.25 236.64 L131.5 235.48 L131.75 234.21 L132 232.87 L132.25 231.5 L132.5 230.15 L132.75 228.87 L133 227.74 L133.25 226.83 L133.5 226.21 L133.75 225.93 L134 226.02 L134.25 226.46 L134.5 227.21 L134.75 228.2 L135 229.37 L135.25 230.62 L135.5 231.91 L135.75 233.16 L136 234.33 L136.25 235.38 L136.5 236.27 L136.75 236.99 L137 237.52 L137.25 237.85 L137.5 237.97 L137.75 237.89 L138 237.61 L138.25 237.15 L138.5 236.51 L138.75 235.73 L139 234.82 L139.25 233.83 L139.5 232.79 L139.75 231.75 L140 230.78 L140.25 229.93 L140.5 229.26 L140.75 228.85 L141 228.72 L141.25 228.9 L141.5 229.36 L141.75 230.08 L142 231 L142.25 232.04 L142.5 233.16 L142.75 234.3 L143 235.42 L143.25 236.48 L143.5 237.46 L143.75 238.35 L144 239.13 L144.25 239.8 L144.5 240.37 L144.75 240.83 L145 241.21 L145.25 241.51 L145.5 241.74 L145.75 241.92 L146 242.04 L146.25 242.12 L146.5 242.16 L146.75 242.16 L147 242.12 L147.25 242.02 L147.5 241.87 L147.75 241.65 L148 241.35 L148.25 240.97 L148.5 240.5 L148.75 239.95 L149 239.32 L149.25 238.66 L149.5 237.98 L149.75 237.34 L150 236.79 L150.25 236.39 L150.5 236.21 L150.75 236.26 L151 236.55 L151.25 237.03 L151.5 237.64 L151.75 238.33 L152 239.03 L152.25 239.71 L152.5 240.34 L152.75 240.89 L153 241.36 L153.25 241.75 L153.5 242.05 L153.75 242.29 L154 242.47 L154.25 242.61 L154.5 242.7 L154.75 242.78 L155 242.83 L155.25 242.87 L155.5 242.9 L155.75 242.93 L156 242.95 L156.25 242.97 L156.5 242.98 L156.75 242.99 L157 243 L157.25 243.01 L157.5 243.02 L157.75 243.03 L158 243.04 L158.25 243.05 L158.5 243.05 L158.75 243.06 L159 243.06 L159.25 243.07 L159.5 243.07 L159.75 243.07 L160 243.08 L160.25 243.08 L160.5 243.08 L160.75 243.08 L161 243.08 L161.25 243.09 L161.5 243.09 L161.75 243.09 L162 243.09 L162.25 243.09 L162.5 243.09 L162.75 243.09 L163 243.09 L163.25 243.08 L163.5 243.08 L163.75 243.08 L164 243.08 L164.25 243.08 L164.5 243.08 L164.75 243.07 L165 243.07 L165.25 243.07 L165.5 243.06 L165.75 243.06 L166 243.06 L166.25 243.05 L166.5 243.05 L166.75 243.04 L167 243.04 L167.25 243.03 L167.5 243.03 L167.75 243.02 L168 243.01 L168.25 243.01 L168.5 243 L168.75 242.99 L169 242.98 L169.25 242.97 L169.5 242.96 L169.75 242.95 L170 242.94 L170.25 242.93 L170.5 242.91 L170.75 242.9 L171 242.88 L171.25 242.87 L171.5 242.85 L171.75 242.83 L172 242.81 L172.25 242.79 L172.5 242.76 L172.75 242.74 L173 242.71 L173.25 242.68 L173.5 242.64 L173.75 242.6 L174 242.56 L174.25 242.51 L174.5 242.45 L174.75 242.38 L175 242.29 L175.25 242.18 L175.5 242.05 L175.75 241.87 L176 241.64 L176.25 241.35 L176.5 240.97 L176.75 240.48 L177 239.88 L177.25 239.13 L177.5 238.23 L177.75 237.17 L178 235.95 L178.25 234.59 L178.5 233.11 L178.75 231.54 L179 229.96 L179.25 228.42 L179.5 227.01 L179.75 225.84 L180 224.96 L180.25 224.45 L180.5 224.32 L180.75 224.52 L181 224.98 L181.25 225.59 L181.5 226.28 L181.75 226.95 L182 227.54 L182.25 228.01 L182.5 228.33 L182.75 228.51 L183 228.54 L183.25 228.45 L183.5 228.28 L183.75 228.08 L184 227.89 L184.25 227.77 L184.5 227.74 L184.75 227.86 L185 228.12 L185.25 228.54 L185.5 229.1 L185.75 229.78 L186 230.56 L186.25 231.4 L186.5 232.28 L186.75 233.17 L187 234.04 L187.25 234.86 L187.5 235.63 L187.75 236.3 L188 236.88 L188.25 237.33 L188.5 237.66 L188.75 237.83 L189 237.86 L189.25 237.72 L189.5 237.44 L189.75 237 L190 236.43 L190.25 235.76 L190.5 235.01 L190.75 234.23 L191 233.47 L191.25 232.8 L191.5 232.26 L191.75 231.93 L192 231.85 L192.25 232.03 L192.5 232.47 L192.75 233.12 L193 233.93 L193.25 234.83 L193.5 235.78 L193.75 236.72 L194 237.63 L194.25 238.47 L194.5 239.22 L194.75 239.88 L195 240.44 L195.25 240.91 L195.5 241.29 L195.75 241.6 L196 241.84 L196.25 242.03 L196.5 242.17 L196.75 242.28 L197 242.36 L197.25 242.43 L197.5 242.48 L197.75 242.51 L198 242.54 L198.25 242.57 L198.5 242.59 L198.75 242.6 L199 242.61 L199.25 242.62 L199.5 242.63 L199.75 242.63 L200 242.64 L200.25 242.63 L200.5 242.63 L200.75 242.63 L201 242.62 L201.25 242.61 L201.5 242.59 L201.75 242.58 L202 242.55 L202.25 242.53 L202.5 242.49 L202.75 242.44 L203 242.39 L203.25 242.31 L203.5 242.21 L203.75 242.08 L204 241.91 L204.25 241.69 L204.5 241.42 L204.75 241.07 L205 240.64 L205.25 240.11 L205.5 239.46 L205.75 238.7 L206 237.8 L206.25 236.77 L206.5 235.61 L206.75 234.32 L207 232.92 L207.25 231.42 L207.5 229.86 L207.75 228.26 L208 226.66 L208.25 225.12 L208.5 223.69 L208.75 222.4 L209 221.31 L209.25 220.45 L209.5 219.82 L209.75 219.45 L210 219.33 L210.25 219.47 L210.5 219.89 L210.75 220.59 L211 221.57 L211.25 222.82 L211.5 224.28 L211.75 225.9 L212 227.61 L212.25 229.34 L212.5 231.04 L212.75 232.65 L213 234.12 L213.25 235.43 L213.5 236.54 L213.75 237.45 L214 238.13 L214.25 238.56 L214.5 238.74 L214.75 238.65 L215 238.28 L215.25 237.63 L215.5 236.72 L215.75 235.57 L216 234.25 L216.25 232.86 L216.5 231.52 L216.75 230.37 L217 229.59 L217.25 229.28 L217.5 229.48 L217.75 230.11 L218 231.02 L218.25 232.06 L218.5 233.08 L218.75 233.97 L219 234.67 L219.25 235.13 L219.5 235.35 L219.75 235.34 L220 235.13 L220.25 234.77 L220.5 234.31 L220.75 233.79 L221 233.26 L221.25 232.75 L221.5 232.31 L221.75 231.97 L222 231.75 L222.25 231.66 L222.5 231.71 L222.75 231.87 L223 232.14 L223.25 232.48 L223.5 232.85 L223.75 233.22 L224 233.56 L224.25 233.84 L224.5 234.05 L224.75 234.17 L225 234.19 L225.25 234.12 L225.5 233.97 L225.75 233.77 L226 233.52 L226.25 233.26 L226.5 233.01 L226.75 232.76 L227 232.5 L227.25 232.15 L227.5 231.64 L227.75 230.86 L228 229.76 L228.25 228.34 L228.5 226.68 L228.75 224.96 L229 223.43 L229.25 222.36 L229.5 221.85 L229.75 221.87 L230 222.34 L230.25 223.22 L230.5 224.56 L230.75 226.32 L231 228.33 L231.25 230.35 L231.5 232.15 L231.75 233.56 L232 234.52 L232.25 235.03 L232.5 235.15 L232.75 234.98 L233 234.64 L233.25 234.23 L233.5 233.83 L233.75 233.53 L234 233.38 L234.25 233.41 L234.5 233.63 L234.75 234.03 L235 234.58 L235.25 235.24 L235.5 235.96 L235.75 236.73 L236 237.49 L236.25 238.23 L236.5 238.93 L236.75 239.57 L237 240.14 L237.25 240.64 L237.5 241.07 L237.75 241.44 L238 241.74 L238.25 241.98 L238.5 242.18 L238.75 242.34 L239 242.47 L239.25 242.56 L239.5 242.64 L239.75 242.71 L240 242.76 L240.25 242.8 L240.5 242.84 L240.75 242.87 L241 242.89 L241.25 242.92 L241.5 242.94 L241.75 242.95 L242 242.97 L242.25 242.99 L242.5 243 L242.75 243.02 L243 243.03 L243.25 243.04 L243.5 243.05 L243.75 243.06 L244 243.07 L244.25 243.08 L244.5 243.09 L244.75 243.1 L245 243.11 L245.25 243.11 L245.5 243.12 L245.75 243.13 L246 243.13 L246.25 243.14 L246.5 243.14 L246.75 243.15 L247 243.16 L247.25 243.16 L247.5 243.16 L247.75 243.17 L248 243.17 L248.25 243.18 L248.5 243.18 L248.75 243.19 L249 243.19 L249.25 243.19 L249.5 243.2 L249.75 243.2 L250 243.2 L250.25 243.21 L250.5 243.21 L250.75 243.21 L251 243.21 L251.25 243.22 L251.5 243.22 L251.75 243.22 L252 243.22 L252.25 243.23 L252.5 243.23 L252.75 243.23 L253 243.23 L253.25 243.24 L253.5 243.24 L253.75 243.24 L254 243.24 L254.25 243.24 L254.5 243.25 L254.75 243.25 L255 243.25 L255.25 243.25 L255.5 243.25 L255.75 243.25 L256 243.25 L256.25 243.26 L256.5 243.26 L256.75 243.26 L257 243.26 L257.25 243.26 L257.5 243.26 L257.75 243.26 L258 243.27 L258.25 243.27 L258.5 243.27 L258.75 243.27 L259 243.27 L259.25 243.27 L259.5 243.27 L259.75 243.27 L260 243.27 L260.25 243.28 L260.5 243.28 L260.75 243.28 L261 243.28 L261.25 243.28 L261.5 243.28 L261.75 243.28 L262 243.28 L262.25 243.28 L262.5 243.28 L262.75 243.28 L263 243.28 L263.25 243.29 L263.5 243.29 L263.75 243.29 L264 243.29 L264.25 243.29 L264.5 243.29 L264.75 243.29 L265 243.29 L265.25 243.29 L265.5 243.29 L265.75 243.29 L266 243.29 L266.25 243.29 L266.5 243.29 L266.75 243.3 L267 243.3 L267.25 243.3 L267.5 243.3 L267.75 243.3 L268 243.3 L268.25 243.3 L268.5 243.3 L268.75 243.3 L269 243.3 L269.25 243.3 L269.5 243.3 L269.75 243.3 L270 243.3 L270.25 243.3 L270.5 243.3 L270.75 243.3 L271 243.3 L271.25 243.3 L271.5 243.3 L271.75 243.31 L272 243.31 L272.25 243.31 L272.5 243.31 L272.75 243.31 L273 243.31 L273.25 243.31 L273.5 243.31 L273.75 243.31 L274 243.31 L274.25 243.31 L274.5 243.31 L274.75 243.31 L275 243.31 L275.25 243.31 L275.5 243.31 L275.75 243.31 L276 243.31 L276.25 243.31 L276.5 243.31 L276.75 243.31 L277 243.31 L277.25 243.31 L277.5 243.31 L277.75 243.31 L278 243.31 L278.25 243.31 L278.5 243.31 L278.75 243.31 L279 243.32 L279.25 243.32 L279.5 243.32 L279.75 243.32 L280 243.32 L280.25 243.32 L280.5 243.32 L280.75 243.32 L281 243.32 L281.25 243.32 L281.5 243.32 L281.75 243.32 L282 243.32 L282.25 243.32 L282.5 243.32 L282.75 243.32 L283 243.32 L283.25 243.32 L283.5 243.32 L283.75 243.32 L284 243.32 L284.25 243.32 L284.5 243.32 L284.75 243.32 L285 243.32 L285.25 243.32 L285.5 243.32 L285.75 243.32 L286 243.32 L286.25 243.32 L286.5 243.32 L286.75 243.32 L287 243.32 L287.25 243.32 L287.5 243.32 L287.75 243.32 L288 243.32 L288.25 243.32 L288.5 243.32 L288.75 243.32 L289 243.32 L289.25 243.32 L289.5 243.32 L289.75 243.32 L290 243.32 L290.25 243.32 L290.5 243.32 L290.75 243.33 L291 243.33 L291.25 243.33 L291.5 243.33 L291.75 243.33 L292 243.33 L292.25 243.33 L292.5 243.33 L292.75 243.33 L293 243.33 L293.25 243.33 L293.5 243.33 L293.75 243.33 L294 243.33 L294.25 243.33 L294.5 243.33 L294.75 243.33 L295 243.33 L295.25 243.33 L295.5 243.33 L295.75 243.33 L296 243.33 L296.25 243.33 L296.5 243.33 L296.75 243.33 L297 243.33 L297.25 243.33 L297.5 243.33 L297.75 243.33 L298 243.33 L298.25 243.33 L298.5 243.33 L298.75 243.33 L299 243.33 L299.25 243.33 L299.5 243.33 L299.75 243.33 L300 243.33 L300.25 243.33 L300.5 243.33 L300.75 243.33 L301 243.33 L301.25 243.33 L301.5 243.33 L301.75 243.33 L302 243.33 L302.25 243.33 L302.5 243.33 L302.75 243.33 L303 243.33 L303.25 243.33 L303.5 243.33 L303.75 243.33 L304 243.33 L304.25 243.33 L304.5 243.33 L304.75 243.33 L305 243.33 L305.25 243.33 L305.5 243.33 L305.75 243.33 L306 243.33 L306.25 243.33 L306.5 243.33 L306.75 243.33 L307 243.33 L307.25 243.33 L307.5 243.33 L307.75 243.33 L308 243.33 L308.25 243.33 L308.5 243.33 L308.75 243.33 L309 243.33 L309.25 243.33 L309.5 243.33 L309.75 243.33 L310 243.33 L310.25 243.33 L310.5 243.33 L310.75 243.33 L311 243.33 L311.25 243.33 L311.5 243.33 L311.75 243.33 L312 243.33 L312.25 243.33 L312.5 243.33 L312.75 243.33 L313 243.33 L313.25 243.33 L313.5 243.34 L313.75 243.34 L314 243.34 L314.25 243.34 L314.5 243.34 L314.75 243.34 L315 243.34 L315.25 243.34 L315.5 243.34 L315.75 243.34 L316 243.34 L316.25 243.34 L316.5 243.34 L316.75 243.34 L317 243.34 L317.25 243.34 L317.5 243.34 L317.75 243.34 L318 243.34 L318.25 243.34 L318.5 243.34 L318.75 243.34 L319 243.34 L319.25 243.34 L319.5 243.34 L319.75 243.34 L320 243.34 L320.25 243.34 L320.5 243.34 L320.75 243.34 L321 243.34" fill="none" stroke="#e00000" stroke-width="1.5" stroke-linejoin="round" stroke-linecap="round" />
<text x="100.5" y="111.5" font-family="'Liberation Serif', 'Times New Roman', serif" font-weight="bold" font-size="9.5" text-anchor="middle" fill="#111">a</text>
<text x="136" y="104.9" font-family="'Liberation Serif', 'Times New Roman', serif" font-weight="bold" font-size="9.5" text-anchor="middle" fill="#111">g</text>
<text x="144.1" y="120.8" font-family="'Liberation Serif', 'Times New Roman', serif" font-weight="bold" font-size="9.5" text-anchor="middle" fill="#111">c</text>
<text x="158.1" y="104.7" font-family="'Liberation Serif', 'Times New Roman', serif" font-weight="bold" font-size="9.5" text-anchor="middle" fill="#111">c</text>
<text x="163" y="111" font-family="'Liberation Serif', 'Times New Roman', serif" font-weight="bold" font-size="9.5" text-anchor="middle" fill="#111">i</text>
<text x="203" y="113.4" font-family="'Liberation Serif', 'Times New Roman', serif" font-weight="bold" font-size="9.5" text-anchor="middle" fill="#111">f</text>
<text x="210.9" y="109.2" font-family="'Liberation Serif', 'Times New Roman', serif" font-weight="bold" font-size="9.5" text-anchor="middle" fill="#111">d</text>
<text x="220.1" y="110.1" font-family="'Liberation Serif', 'Times New Roman', serif" font-weight="bold" font-size="9.5" text-anchor="middle" fill="#111">h</text>
<text x="227.5" y="117.8" font-family="'Liberation Serif', 'Times New Roman', serif" font-weight="bold" font-size="9.5" text-anchor="middle" fill="#111">b</text>
<text x="107.2" y="229.8" font-family="'Liberation Serif', 'Times New Roman', serif" font-weight="bold" font-size="9.5" text-anchor="middle" fill="#111">a′</text>
<text x="131.2" y="227.1" font-family="'Liberation Serif', 'Times New Roman', serif" font-weight="bold" font-size="9.5" text-anchor="middle" fill="#111">k′</text>
<text x="142.9" y="228.4" font-family="'Liberation Serif', 'Times New Roman', serif" font-weight="bold" font-size="9.5" text-anchor="middle" fill="#111">i′</text>
<text x="151.4" y="235" font-family="'Liberation Serif', 'Times New Roman', serif" font-weight="bold" font-size="9.5" text-anchor="middle" fill="#111">c′</text>
<text x="183.1" y="223.2" font-family="'Liberation Serif', 'Times New Roman', serif" font-weight="bold" font-size="9.5" text-anchor="middle" fill="#111">f′</text>
<text x="195.1" y="229.8" font-family="'Liberation Serif', 'Times New Roman', serif" font-weight="bold" font-size="9.5" text-anchor="middle" fill="#111">h′</text>
<text x="211" y="216.8" font-family="'Liberation Serif', 'Times New Roman', serif" font-weight="bold" font-size="9.5" text-anchor="middle" fill="#111">g′</text>
<text x="221.6" y="228.8" font-family="'Liberation Serif', 'Times New Roman', serif" font-weight="bold" font-size="9.5" text-anchor="middle" fill="#111">c′,j′</text>
<text x="234.7" y="219.2" font-family="'Liberation Serif', 'Times New Roman', serif" font-weight="bold" font-size="9.5" text-anchor="middle" fill="#111">d′</text>
<text x="241.3" y="232.6" font-family="'Liberation Serif', 'Times New Roman', serif" font-weight="bold" font-size="9.5" text-anchor="middle" fill="#111">b′</text>
<rect x="30.5" y="17.5" width="290.5" height="241" fill="none" stroke="#111" stroke-width="1.1"/>
<rect x="362.0" y="16.5" width="298.4" height="241" fill="none" stroke="#111" stroke-width="1.1"/>
<line x1="30.5" y1="258.5" x2="30.5" y2="262.5" stroke="#111" stroke-width="1"/>
<text transform="translate(30.5 274.3) scale(0.86 1)" font-family="'Liberation Sans', Arial, sans-serif" font-size="11.2" text-anchor="middle" fill="#1a1a1a" stroke="#1a1a1a" stroke-width="0.25">9.0</text>
<line x1="54.71" y1="258.5" x2="54.71" y2="260.5" stroke="#111" stroke-width="1"/>
<line x1="78.91" y1="258.5" x2="78.91" y2="262.5" stroke="#111" stroke-width="1"/>
<text transform="translate(78.91 274.3) scale(0.86 1)" font-family="'Liberation Sans', Arial, sans-serif" font-size="11.2" text-anchor="middle" fill="#1a1a1a" stroke="#1a1a1a" stroke-width="0.25">8.5</text>
<line x1="103.12" y1="258.5" x2="103.12" y2="260.5" stroke="#111" stroke-width="1"/>
<line x1="127.33" y1="258.5" x2="127.33" y2="262.5" stroke="#111" stroke-width="1"/>
<text transform="translate(127.33 274.3) scale(0.86 1)" font-family="'Liberation Sans', Arial, sans-serif" font-size="11.2" text-anchor="middle" fill="#1a1a1a" stroke="#1a1a1a" stroke-width="0.25">8.0</text>
<line x1="151.54" y1="258.5" x2="151.54" y2="260.5" stroke="#111" stroke-width="1"/>
<line x1="175.75" y1="258.5" x2="175.75" y2="262.5" stroke="#111" stroke-width="1"/>
<text transform="translate(175.75 274.3) scale(0.86 1)" font-family="'Liberation Sans', Arial, sans-serif" font-size="11.2" text-anchor="middle" fill="#1a1a1a" stroke="#1a1a1a" stroke-width="0.25">7.5</text>
<line x1="199.95" y1="258.5" x2="199.95" y2="260.5" stroke="#111" stroke-width="1"/>
<line x1="224.16" y1="258.5" x2="224.16" y2="262.5" stroke="#111" stroke-width="1"/>
<text transform="translate(224.16 274.3) scale(0.86 1)" font-family="'Liberation Sans', Arial, sans-serif" font-size="11.2" text-anchor="middle" fill="#1a1a1a" stroke="#1a1a1a" stroke-width="0.25">7.0</text>
<line x1="248.37" y1="258.5" x2="248.37" y2="260.5" stroke="#111" stroke-width="1"/>
<line x1="272.57" y1="258.5" x2="272.57" y2="262.5" stroke="#111" stroke-width="1"/>
<text transform="translate(272.57 274.3) scale(0.86 1)" font-family="'Liberation Sans', Arial, sans-serif" font-size="11.2" text-anchor="middle" fill="#1a1a1a" stroke="#1a1a1a" stroke-width="0.25">6.5</text>
<line x1="296.78" y1="258.5" x2="296.78" y2="260.5" stroke="#111" stroke-width="1"/>
<line x1="320.99" y1="258.5" x2="320.99" y2="262.5" stroke="#111" stroke-width="1"/>
<text transform="translate(320.99 274.3) scale(0.86 1)" font-family="'Liberation Sans', Arial, sans-serif" font-size="11.2" text-anchor="middle" fill="#1a1a1a" stroke="#1a1a1a" stroke-width="0.25">6.0</text>
<text x="175.3" y="294.0" font-family="'Liberation Sans', Arial, sans-serif" font-size="12.2" text-anchor="middle" fill="#1a1a1a" stroke="#1a1a1a" stroke-width="0.2">ppm</text>
<text transform="translate(16.3 138.4) rotate(-90)" font-family="'Liberation Sans', Arial, sans-serif" font-size="11.2" text-anchor="middle" textLength="79" lengthAdjust="spacingAndGlyphs" fill="#1a1a1a" stroke="#1a1a1a" stroke-width="0.2">Intensity / a.u.</text>
<line x1="361.8" y1="257.5" x2="361.8" y2="261.5" stroke="#111" stroke-width="1"/>
<text transform="translate(361.8 272.7) scale(0.83 1)" font-family="'Liberation Sans', Arial, sans-serif" font-size="11.4" text-anchor="middle" fill="#1a1a1a" stroke="#1a1a1a" stroke-width="0.25">1800</text>
<line x1="386.9" y1="257.5" x2="386.9" y2="259.5" stroke="#111" stroke-width="1"/>
<line x1="412" y1="257.5" x2="412" y2="261.5" stroke="#111" stroke-width="1"/>
<text transform="translate(412 272.7) scale(0.83 1)" font-family="'Liberation Sans', Arial, sans-serif" font-size="11.4" text-anchor="middle" fill="#1a1a1a" stroke="#1a1a1a" stroke-width="0.25">1600</text>
<line x1="436.5" y1="257.5" x2="436.5" y2="259.5" stroke="#111" stroke-width="1"/>
<line x1="461.5" y1="257.5" x2="461.5" y2="261.5" stroke="#111" stroke-width="1"/>
<text transform="translate(461.5 272.7) scale(0.83 1)" font-family="'Liberation Sans', Arial, sans-serif" font-size="11.4" text-anchor="middle" fill="#1a1a1a" stroke="#1a1a1a" stroke-width="0.25">1400</text>
<line x1="486.3" y1="257.5" x2="486.3" y2="259.5" stroke="#111" stroke-width="1"/>
<line x1="511.7" y1="257.5" x2="511.7" y2="261.5" stroke="#111" stroke-width="1"/>
<text transform="translate(511.7 272.7) scale(0.83 1)" font-family="'Liberation Sans', Arial, sans-serif" font-size="11.4" text-anchor="middle" fill="#1a1a1a" stroke="#1a1a1a" stroke-width="0.25">1200</text>
<line x1="535.8" y1="257.5" x2="535.8" y2="259.5" stroke="#111" stroke-width="1"/>
<line x1="560.9" y1="257.5" x2="560.9" y2="261.5" stroke="#111" stroke-width="1"/>
<text transform="translate(560.9 272.7) scale(0.83 1)" font-family="'Liberation Sans', Arial, sans-serif" font-size="11.4" text-anchor="middle" fill="#1a1a1a" stroke="#1a1a1a" stroke-width="0.25">1000</text>
<line x1="586.4" y1="257.5" x2="586.4" y2="259.5" stroke="#111" stroke-width="1"/>
<line x1="611.5" y1="257.5" x2="611.5" y2="261.5" stroke="#111" stroke-width="1"/>
<text transform="translate(611.5 272.7) scale(0.83 1)" font-family="'Liberation Sans', Arial, sans-serif" font-size="11.4" text-anchor="middle" fill="#1a1a1a" stroke="#1a1a1a" stroke-width="0.25">800</text>
<line x1="636.7" y1="257.5" x2="636.7" y2="259.5" stroke="#111" stroke-width="1"/>
<line x1="660.2" y1="257.5" x2="660.2" y2="261.5" stroke="#111" stroke-width="1"/>
<text transform="translate(660.2 272.7) scale(0.83 1)" font-family="'Liberation Sans', Arial, sans-serif" font-size="11.4" text-anchor="middle" fill="#1a1a1a" stroke="#1a1a1a" stroke-width="0.25">600</text>
<text x="454.3" y="294.2" font-family="'Liberation Sans', Arial, sans-serif" font-size="12.5" fill="#1a1a1a" stroke="#1a1a1a" stroke-width="0.15">Wav<tspan dx="1.5">e</tspan> Number / cm<tspan font-size="8" dy="-5">-1</tspan></text>
<text transform="translate(348.9 136.1) rotate(-90)" font-family="'Liberation Sans', Arial, sans-serif" font-size="12.4" text-anchor="middle" textLength="112" lengthAdjust="spacingAndGlyphs" fill="#1a1a1a" stroke="#1a1a1a" stroke-width="0.2">Transmittance / a.u.</text>
<path d="M362 73.6 L362.67 73.86 L363.62 74.24 L364.77 74.65 L366 75 L367.31 75.26 L368.75 75.49 L370.31 75.72 L372 76 L373.86 76.35 L375.88 76.75 L377.95 77.17 L380 77.6 L382.09 78.09 L384.25 78.62 L386.28 79.1 L388 79.4 L389.19 79.48 L390 79.4 L390.81 79.22 L392 79 L393.81 78.71 L396 78.34 L398.19 77.95 L400 77.6 L401.28 77.32 L402.25 77.07 L403.09 76.84 L404 76.6 L405.02 76.32 L406.06 76.01 L407.07 75.75 L408 75.6 L408.86 75.59 L409.66 75.67 L410.39 75.82 L411 76 L411.47 76.11 L411.81 76.21 L412.1 76.45 L412.4 77 L412.72 77.85 L413.04 78.94 L413.33 80.3 L413.6 82 L413.82 84.12 L414 86.62 L414.18 89.31 L414.4 92 L414.68 94.88 L415 97.96 L415.32 100.82 L415.6 103 L415.82 104.43 L416 105.34 L416.18 105.72 L416.4 105.6 L416.67 104.9 L416.96 103.65 L417.28 101.97 L417.6 100 L417.95 97.54 L418.31 94.59 L418.67 91.6 L419 89 L419.25 86.9 L419.46 85.06 L419.69 83.45 L420 82 L420.43 80.81 L420.94 79.88 L421.48 79 L422 78 L422.48 76.77 L422.94 75.44 L423.43 74.13 L424 73 L424.66 72.05 L425.38 71.21 L426.16 70.52 L427 70 L427.95 69.72 L429 69.65 L430.05 69.65 L431 69.6 L431.86 69.43 L432.66 69.21 L433.39 69.04 L434 69 L434.47 69.02 L434.81 69.09 L435.1 69.36 L435.4 70 L435.71 71.01 L436 72.31 L436.29 73.96 L436.6 76 L436.95 78.62 L437.31 81.75 L437.67 85 L438 88 L438.28 90.69 L438.52 93.25 L438.76 95.69 L439 98 L439.25 100.23 L439.5 102.38 L439.75 104.33 L440 106 L440.25 107.54 L440.5 108.94 L440.75 109.87 L441 110 L441.25 108.77 L441.5 106.5 L441.75 104.23 L442 103 L442.25 103.23 L442.5 104.31 L442.75 105.74 L443 107 L443.25 108.07 L443.5 109.19 L443.75 110.21 L444 111 L444.25 111.58 L444.5 112 L444.75 112.17 L445 112 L445.25 111.45 L445.5 110.56 L445.75 109.4 L446 108 L446.25 106.33 L446.5 104.38 L446.75 102.23 L447 100 L447.23 97.55 L447.44 94.88 L447.68 92.27 L448 90 L448.43 88.17 L448.94 86.62 L449.48 85.27 L450 84 L450.48 82.85 L450.94 81.85 L451.43 80.92 L452 80 L452.68 78.97 L453.44 77.91 L454.23 77 L455 76.4 L455.77 76.22 L456.56 76.35 L457.32 76.65 L458 77 L458.57 77.4 L459.06 77.91 L459.52 78.47 L460 79 L460.5 79.57 L461 80.19 L461.5 80.71 L462 81 L462.5 81.03 L463 80.88 L463.5 80.53 L464 80 L464.5 79.19 L465 78.12 L465.5 77 L466 76 L466.48 75.16 L466.94 74.38 L467.43 73.66 L468 73 L468.66 72.43 L469.38 71.94 L470.16 71.48 L471 71 L471.98 70.41 L473.06 69.75 L474.12 69.22 L475 69 L475.65 69.2 L476.16 69.69 L476.59 70.34 L477 71 L477.41 71.66 L477.79 72.38 L478.12 73.16 L478.4 74 L478.6 74.93 L478.72 75.94 L478.84 76.98 L479 78 L479.2 79.02 L479.41 80.06 L479.67 81.07 L480 82 L480.41 82.89 L480.88 83.75 L481.41 84.48 L482 85 L482.7 85.16 L483.5 85.06 L484.3 84.93 L485 85 L485.57 85.43 L486.06 86.06 L486.52 86.66 L487 87 L487.5 86.89 L488 86.5 L488.5 86.11 L489 86 L489.5 86.24 L490 86.69 L490.5 87.29 L491 88 L491.52 88.84 L492.06 89.81 L492.57 90.88 L493 92 L493.3 93.18 L493.5 94.44 L493.7 95.73 L494 97 L494.43 98.23 L494.94 99.44 L495.48 100.68 L496 102 L496.5 103.41 L497 104.88 L497.5 106.41 L498 108 L498.5 109.73 L499 111.56 L499.5 113.37 L500 115 L500.51 116.5 L501.03 117.91 L501.53 119.12 L502 120 L502.43 120.51 L502.84 120.72 L503.22 120.67 L503.6 120.4 L503.95 119.88 L504.28 119.1 L504.61 118.12 L505 117 L505.46 115.66 L505.96 114.1 L506.49 112.49 L507 111 L507.52 109.62 L508.06 108.27 L508.57 107.04 L509 106 L509.31 105.13 L509.53 104.4 L509.73 103.87 L510 103.6 L510.36 103.76 L510.77 104.27 L511.2 104.8 L511.6 105 L511.95 104.74 L512.28 104.21 L512.61 103.58 L513 103 L513.46 102.38 L513.96 101.69 L514.49 101.15 L515 101 L515.5 101.35 L516 102.06 L516.5 102.99 L517 104 L517.5 105.13 L518 106.44 L518.5 107.77 L519 109 L519.5 110.07 L520 111.06 L520.5 112.02 L521 113 L521.5 114.02 L522 115.06 L522.5 116.07 L523 117 L523.52 117.91 L524.06 118.81 L524.57 119.55 L525 120 L525.3 120.08 L525.5 119.88 L525.7 119.48 L526 119 L526.43 118.46 L526.94 117.81 L527.48 117.01 L528 116 L528.5 114.66 L529 113.06 L529.5 111.43 L530 110 L530.52 108.81 L531.06 107.75 L531.57 106.81 L532 106 L532.31 105.24 L532.54 104.56 L532.75 104.1 L533 104 L533.32 104.4 L533.66 105.19 L534.03 106.13 L534.4 107 L534.78 107.82 L535.16 108.69 L535.57 109.46 L536 110 L536.47 110.23 L536.98 110.25 L537.49 110.14 L538 110 L538.5 109.73 L539 109.31 L539.5 108.99 L540 109 L540.5 109.47 L541 110.25 L541.5 111.16 L542 112 L542.51 112.91 L543.03 113.94 L543.54 114.74 L544 115 L544.41 114.52 L544.78 113.5 L545.14 112.23 L545.5 111 L545.89 109.8 L546.28 108.5 L546.66 107.2 L547 106 L547.28 104.93 L547.51 103.94 L547.73 102.98 L548 102 L548.32 100.95 L548.66 99.88 L549.03 98.86 L549.4 98 L549.79 97.27 L550.19 96.62 L550.6 96.17 L551 96 L551.4 96.08 L551.81 96.38 L552.21 96.98 L552.6 98 L552.97 99.62 L553.34 101.75 L553.68 104 L554 106 L554.26 107.73 L554.49 109.38 L554.72 110.83 L555 112 L555.36 112.84 L555.78 113.4 L556.2 113.76 L556.6 114 L556.96 114.04 L557.31 113.88 L557.65 113.67 L558 113.6 L558.35 113.74 L558.71 114 L559.06 114.26 L559.4 114.4 L559.71 114.45 L560 114.44 L560.29 114.31 L560.6 114 L560.92 113.48 L561.25 112.79 L561.6 111.95 L562 111 L562.43 109.87 L562.9 108.56 L563.42 107.23 L564 106 L564.66 104.91 L565.38 103.88 L566.16 102.91 L567 102 L567.93 101.18 L568.94 100.44 L569.98 99.73 L571 99 L572 98.23 L573 97.44 L574 96.68 L575 96 L576.02 95.43 L577.06 94.94 L578.07 94.48 L579 94 L579.84 93.51 L580.62 93.02 L581.34 92.53 L582 92 L582.57 91.42 L583.06 90.8 L583.52 90.18 L584 89.6 L584.51 88.99 L585.04 88.36 L585.54 87.85 L586 87.6 L586.39 87.6 L586.72 87.8 L587.05 88.25 L587.4 89 L587.78 90.2 L588.16 91.78 L588.57 93.46 L589 95 L589.47 96.37 L589.98 97.69 L590.49 98.91 L591 100 L591.5 100.96 L592 101.81 L592.5 102.51 L593 103 L593.5 103.24 L594 103.27 L594.5 103.17 L595 103 L595.5 102.66 L596 102.15 L596.5 101.72 L597 101.6 L597.5 101.9 L598 102.46 L598.5 103.2 L599 104 L599.5 104.89 L600 105.9 L600.5 106.96 L601 108 L601.52 109.04 L602.04 110.11 L602.55 111.13 L603 112 L603.36 112.78 L603.67 113.49 L603.96 114 L604.3 114.2 L604.69 114.03 L605.09 113.58 L605.53 112.88 L606 112 L606.51 110.88 L607.07 109.5 L607.64 108.02 L608.2 106.6 L608.74 105.2 L609.27 103.76 L609.82 102.4 L610.4 101.2 L611.03 100.22 L611.7 99.4 L612.37 98.68 L613 98 L613.58 97.38 L614.13 96.84 L614.67 96.33 L615.2 95.8 L615.74 95.15 L616.28 94.42 L616.81 93.84 L617.3 93.6 L617.76 93.82 L618.18 94.36 L618.59 95.08 L619 95.8 L619.39 96.58 L619.77 97.48 L620.16 98.33 L620.6 99 L621.12 99.45 L621.71 99.76 L622.29 99.94 L622.8 100 L623.22 99.82 L623.58 99.42 L623.93 99.07 L624.3 99 L624.7 99.3 L625.11 99.84 L625.54 100.5 L626 101.2 L626.52 102 L627.08 102.94 L627.65 103.8 L628.2 104.4 L628.73 104.61 L629.25 104.56 L629.77 104.43 L630.3 104.4 L630.85 104.59 L631.42 104.87 L631.98 105.07 L632.5 105 L632.96 104.44 L633.39 103.56 L633.79 102.71 L634.2 102.3 L634.61 102.43 L635.01 102.91 L635.41 103.6 L635.8 104.4 L636.18 105.37 L636.54 106.53 L636.91 107.73 L637.3 108.8 L637.7 109.81 L638.11 110.81 L638.54 111.61 L639 112 L639.52 111.85 L640.08 111.3 L640.65 110.55 L641.2 109.8 L641.73 109.05 L642.25 108.2 L642.77 107.35 L643.3 106.6 L643.84 106.03 L644.39 105.58 L644.95 105.08 L645.5 104.4 L646.06 103.32 L646.63 101.99 L647.19 100.76 L647.7 100 L648.16 99.83 L648.59 100.06 L648.99 100.55 L649.4 101.2 L649.8 102.08 L650.18 103.22 L650.57 104.42 L651 105.5 L651.46 106.42 L651.96 107.28 L652.47 108.08 L653 108.8 L653.56 109.4 L654.14 109.91 L654.73 110.41 L655.3 111 L655.85 111.76 L656.39 112.61 L656.91 113.45 L657.4 114.2 L657.84 114.8 L658.24 115.31 L658.63 115.79 L659 116.3 L659.4 116.89 L659.8 117.53 L660.15 118.1 L660.4 118.5" fill="none" stroke="#111" stroke-width="1.5" stroke-linejoin="round" stroke-linecap="round" />
<path d="M362 180 L367.21 179.98 L374.81 179.94 L382.51 179.93 L388 180 L390.37 180.16 L390.94 180.38 L390.79 180.66 L391 181 L391.77 181.41 L392.56 181.88 L393.32 182.41 L394 183 L394.57 183.61 L395.06 184.25 L395.52 185.02 L396 186 L396.5 187.31 L397 188.88 L397.5 190.5 L398 192 L398.5 193.32 L399 194.56 L399.5 195.77 L400 197 L400.5 198.3 L401 199.62 L401.5 200.89 L402 202 L402.51 202.94 L403.03 203.76 L403.54 204.45 L404 205 L404.41 205.43 L404.78 205.73 L405.14 205.87 L405.5 205.8 L405.89 205.49 L406.28 204.98 L406.66 204.3 L407 203.5 L407.26 202.55 L407.47 201.45 L407.69 200.25 L408 199 L408.43 197.62 L408.95 196.12 L409.49 194.69 L410 193.5 L410.48 192.54 L410.95 191.72 L411.4 191.17 L411.8 191 L412.14 191.27 L412.42 191.91 L412.69 192.84 L413 194 L413.35 195.52 L413.71 197.38 L414.1 199.3 L414.5 201 L414.94 202.58 L415.42 204.12 L415.89 205.36 L416.3 206 L416.65 205.88 L416.95 205.19 L417.23 204.15 L417.5 203 L417.77 201.73 L418.02 200.25 L418.26 198.64 L418.5 197 L418.72 195.3 L418.91 193.5 L419.13 191.7 L419.4 190 L419.74 188.36 L420.13 186.75 L420.56 185.27 L421 184 L421.47 183.01 L421.98 182.22 L422.49 181.58 L423 181 L423.48 180.46 L423.94 180.01 L424.43 179.65 L425 179.4 L425.7 179.27 L426.5 179.26 L427.3 179.32 L428 179.4 L428.57 179.47 L429.06 179.58 L429.52 179.74 L430 180 L430.51 180.38 L431.04 180.85 L431.54 181.4 L432 182 L432.4 182.63 L432.75 183.31 L433.08 184.09 L433.4 185 L433.72 186.09 L434.04 187.31 L434.33 188.63 L434.6 190 L434.83 191.48 L435.04 193.06 L435.22 194.62 L435.4 196 L435.54 197.15 L435.66 198.14 L435.79 199.07 L436 200 L436.31 201.1 L436.69 202.29 L437.1 203.25 L437.5 203.7 L437.88 203.25 L438.25 202.16 L438.62 201.09 L439 200.7 L439.38 201.55 L439.75 203.16 L440.12 204.62 L440.5 205 L440.88 203.61 L441.25 201.08 L441.62 198.51 L442 197 L442.38 196.93 L442.75 197.69 L443.12 198.85 L443.5 200 L443.88 201.34 L444.25 203 L444.62 204.41 L445 205 L445.38 204.43 L445.75 203.06 L446.12 201.41 L446.5 200 L446.88 198.88 L447.25 197.81 L447.62 196.84 L448 196 L448.36 195.42 L448.71 195.03 L449.08 194.63 L449.5 194 L450 193 L450.55 191.78 L451.13 190.54 L451.7 189.5 L452.29 188.69 L452.89 188 L453.48 187.44 L454 187 L454.43 186.67 L454.8 186.46 L455.14 186.39 L455.5 186.5 L455.88 186.93 L456.25 187.61 L456.62 188.29 L457 188.7 L457.38 188.67 L457.75 188.36 L458.12 188.05 L458.5 188 L458.88 188.32 L459.25 188.85 L459.62 189.46 L460 190 L460.38 190.54 L460.75 191.11 L461.12 191.56 L461.5 191.7 L461.86 191.45 L462.22 190.92 L462.59 190.23 L463 189.5 L463.46 188.7 L463.97 187.8 L464.49 186.87 L465 186 L465.5 185.19 L466 184.41 L466.5 183.67 L467 183 L467.48 182.41 L467.94 181.88 L468.43 181.41 L469 181 L469.68 180.67 L470.44 180.41 L471.23 180.2 L472 180 L472.77 179.77 L473.56 179.54 L474.32 179.39 L475 179.4 L475.57 179.57 L476.06 179.85 L476.52 180.31 L477 181 L477.5 182.03 L478 183.35 L478.5 184.74 L479 186 L479.5 187.21 L480 188.44 L480.5 189.45 L481 190 L481.48 189.85 L481.94 189.19 L482.43 188.43 L483 188 L483.7 188.09 L484.5 188.44 L485.3 188.82 L486 189 L486.57 188.94 L487.06 188.75 L487.52 188.44 L488 188 L488.51 187.3 L489.03 186.38 L489.53 185.52 L490 185 L490.43 184.88 L490.84 185 L491.22 185.38 L491.6 186 L491.95 186.92 L492.28 188.12 L492.61 189.52 L493 191 L493.46 192.59 L493.96 194.31 L494.49 196.13 L495 198 L495.5 199.93 L496 201.94 L496.5 203.98 L497 206 L497.5 208.02 L498 210.06 L498.5 212.07 L499 214 L499.52 215.91 L500.06 217.81 L500.57 219.55 L501 221 L501.31 222.15 L501.53 223.06 L501.73 223.7 L502 224 L502.36 223.95 L502.77 223.56 L503.2 222.9 L503.6 222 L503.95 220.78 L504.28 219.25 L504.61 217.59 L505 216 L505.46 214.43 L505.96 212.81 L506.49 211.29 L507 210 L507.48 208.99 L507.94 208.19 L508.43 207.54 L509 207 L509.7 206.73 L510.5 206.69 L511.3 206.55 L512 206 L512.57 204.8 L513.06 203.19 L513.52 201.48 L514 200 L514.51 198.72 L515.02 197.5 L515.53 196.53 L516 196 L516.43 195.91 L516.84 196.19 L517.22 196.87 L517.6 198 L517.95 199.9 L518.28 202.44 L518.61 205.01 L519 207 L519.47 208.27 L520 209.12 L520.53 209.67 L521 210 L521.4 209.91 L521.75 209.44 L522.08 208.99 L522.4 209 L522.71 209.77 L523 211 L523.29 212.23 L523.6 213 L523.93 213.31 L524.27 213.38 L524.62 213 L525 212 L525.4 210.09 L525.82 207.44 L526.26 204.57 L526.7 202 L527.13 199.77 L527.56 197.62 L528.01 195.67 L528.5 194 L529.07 192.6 L529.69 191.44 L530.29 190.55 L530.8 190 L531.18 189.8 L531.47 189.92 L531.73 190.33 L532 191 L532.29 192.09 L532.56 193.57 L532.86 195.09 L533.2 196.3 L533.61 197.08 L534.07 197.63 L534.54 198.09 L535 198.6 L535.45 199.28 L535.89 200.02 L536.32 200.65 L536.7 201 L537 201.08 L537.24 200.95 L537.49 200.55 L537.8 199.8 L538.22 198.39 L538.7 196.45 L539.18 194.59 L539.6 193.4 L539.92 193.04 L540.19 193.2 L540.43 193.76 L540.7 194.6 L541 195.91 L541.3 197.69 L541.6 199.52 L541.9 201 L542.18 202.13 L542.45 203.09 L542.72 203.75 L543 204 L543.29 203.77 L543.59 203.12 L543.9 202.17 L544.2 201 L544.49 199.5 L544.77 197.67 L545.06 195.76 L545.4 194 L545.77 192.39 L546.17 190.81 L546.61 189.38 L547.1 188.2 L547.67 187.28 L548.3 186.56 L548.93 186.07 L549.5 185.8 L549.99 185.76 L550.43 185.96 L550.83 186.37 L551.2 187 L551.54 187.88 L551.83 188.99 L552.11 190.29 L552.4 191.7 L552.71 193.34 L553.03 195.19 L553.33 197.02 L553.6 198.6 L553.82 199.97 L554.01 201.22 L554.19 202.19 L554.4 202.7 L554.64 202.56 L554.91 201.92 L555.19 201.09 L555.5 200.4 L555.85 199.93 L556.24 199.5 L556.64 199.07 L557 198.6 L557.33 198.11 L557.64 197.61 L557.94 197.03 L558.2 196.3 L558.41 195.36 L558.58 194.26 L558.75 193.1 L559 192 L559.32 190.96 L559.7 189.93 L560.12 188.94 L560.6 188 L561.12 187.12 L561.7 186.28 L562.33 185.5 L563 184.8 L563.74 184.17 L564.55 183.6 L565.38 183.13 L566.2 182.8 L567.02 182.66 L567.85 182.68 L568.66 182.75 L569.4 182.8 L570.07 182.83 L570.67 182.88 L571.25 182.88 L571.8 182.8 L572.33 182.56 L572.82 182.2 L573.31 181.84 L573.8 181.6 L574.32 181.54 L574.85 181.6 L575.36 181.66 L575.8 181.6 L576.14 181.35 L576.4 180.99 L576.66 180.63 L577 180.4 L577.45 180.32 L577.97 180.34 L578.51 180.43 L579 180.6 L579.43 180.87 L579.82 181.24 L580.21 181.64 L580.6 182 L581 182.39 L581.4 182.81 L581.8 183.13 L582.2 183.2 L582.59 182.92 L582.98 182.38 L583.37 181.75 L583.8 181.2 L584.28 180.72 L584.8 180.25 L585.32 179.85 L585.8 179.6 L586.24 179.51 L586.65 179.55 L587.04 179.71 L587.4 180 L587.74 180.45 L588.05 181.05 L588.34 181.73 L588.6 182.4 L588.82 183.07 L589 183.77 L589.18 184.49 L589.4 185.2 L589.67 185.94 L589.98 186.7 L590.29 187.41 L590.6 188 L590.9 188.45 L591.2 188.8 L591.5 189.05 L591.8 189.2 L592.1 189.26 L592.4 189.22 L592.7 189.08 L593 188.8 L593.31 188.31 L593.63 187.63 L593.93 186.94 L594.2 186.4 L594.4 186.01 L594.55 185.71 L594.73 185.52 L595 185.5 L595.42 185.72 L595.92 186.13 L596.47 186.6 L597 187 L597.5 187.31 L598 187.59 L598.5 187.83 L599 188 L599.5 188.04 L600 187.97 L600.5 187.92 L601 188 L601.51 188.29 L602.03 188.72 L602.54 189.16 L603 189.5 L603.41 189.73 L603.78 189.91 L604.14 190 L604.5 190 L604.86 189.91 L605.22 189.75 L605.59 189.46 L606 189 L606.46 188.3 L606.97 187.41 L607.49 186.43 L608 185.5 L608.5 184.55 L609 183.54 L609.5 182.64 L610 182 L610.5 181.72 L611 181.7 L611.5 181.78 L612 181.8 L612.5 181.77 L613 181.76 L613.5 181.7 L614 181.5 L614.51 181.05 L615.03 180.42 L615.54 179.83 L616 179.5 L616.41 179.52 L616.78 179.75 L617.14 180.11 L617.5 180.5 L617.89 180.93 L618.28 181.44 L618.66 181.98 L619 182.5 L619.27 182.96 L619.5 183.41 L619.73 183.89 L620 184.5 L620.34 185.28 L620.72 186.19 L621.11 187.12 L621.5 188 L621.89 188.81 L622.28 189.59 L622.66 190.33 L623 191 L623.29 191.7 L623.53 192.41 L623.76 192.91 L624 193 L624.23 192.44 L624.46 191.39 L624.7 190.28 L625 189.5 L625.38 189.22 L625.81 189.21 L626.27 189.26 L626.7 189.2 L627.1 188.99 L627.5 188.72 L627.9 188.39 L628.3 188 L628.7 187.47 L629.09 186.82 L629.52 186.22 L630 185.8 L630.59 185.7 L631.25 185.82 L631.91 185.92 L632.5 185.8 L632.99 185.3 L633.43 184.58 L633.83 183.84 L634.2 183.3 L634.53 182.98 L634.83 182.79 L635.1 182.75 L635.4 182.9 L635.72 183.29 L636.05 183.89 L636.38 184.62 L636.7 185.4 L637.02 186.37 L637.33 187.51 L637.63 188.55 L637.9 189.2 L638.13 189.35 L638.32 189.17 L638.52 188.78 L638.75 188.3 L639.02 187.72 L639.32 186.98 L639.65 186.17 L640 185.4 L640.4 184.66 L640.83 183.9 L641.27 183.17 L641.7 182.5 L642.1 181.85 L642.5 181.22 L642.9 180.7 L643.3 180.4 L643.72 180.44 L644.14 180.74 L644.57 181.07 L645 181.2 L645.39 181.02 L645.75 180.67 L646.16 180.29 L646.7 180 L647.37 179.83 L648.14 179.72 L649.02 179.65 L650 179.6 L651.22 179.52 L652.63 179.44 L653.97 179.44 L655 179.6 L655.59 179.99 L655.89 180.55 L656.07 181.16 L656.3 181.7 L656.6 182.18 L656.88 182.66 L657.17 183.05 L657.5 183.3 L657.9 183.34 L658.35 183.23 L658.8 183.05 L659.2 182.9 L659.56 182.79 L659.91 182.67 L660.2 182.57 L660.4 182.5" fill="none" stroke="#d40a14" stroke-width="1.7" stroke-linejoin="round" stroke-linecap="round" />
<line x1="521" y1="136" x2="523.92" y2="125.06" stroke="#111" stroke-width="1.2"/>
<path d="M525 121 L525.85 125.57 L521.99 124.54 Z" fill="#111"/>
<text x="504.9" y="144.1" font-family="'Liberation Serif', 'Times New Roman', serif" font-weight="bold" font-size="9.9" text-anchor="middle" fill="#111" textLength="28.6" lengthAdjust="spacingAndGlyphs">O=S=O</text>
<text x="504" y="153.7" font-family="'Liberation Serif', 'Times New Roman', serif" font-weight="bold" font-size="9.9" text-anchor="middle" fill="#111" textLength="78.5" lengthAdjust="spacingAndGlyphs">1066, 1155, 1195 cm<tspan font-size="5.5" dy="-3.2">-1</tspan></text>
<line x1="570" y1="132" x2="564.82" y2="123.13" stroke="#111" stroke-width="1.2"/>
<path d="M562.7 119.5 L566.55 122.12 L563.09 124.14 Z" fill="#111"/>
<text x="587.9" y="135.1" font-family="'Liberation Serif', 'Times New Roman', serif" font-weight="bold" font-size="9.9" text-anchor="middle" fill="#111" textLength="32.8" lengthAdjust="spacingAndGlyphs">Ar-O-Ar</text>
<text x="588.4" y="144.7" font-family="'Liberation Serif', 'Times New Roman', serif" font-weight="bold" font-size="9.9" text-anchor="middle" fill="#111" textLength="58.8" lengthAdjust="spacingAndGlyphs">1009, 1027 cm<tspan font-size="5.5" dy="-3.2">-1</tspan></text>
<line x1="411.8" y1="228.4" x2="405.97" y2="213.99" stroke="#111" stroke-width="1.2"/>
<path d="M404.4 210.1 L407.83 213.24 L404.12 214.74 Z" fill="#111"/>
<line x1="411.8" y1="228.4" x2="437.54" y2="212.32" stroke="#111" stroke-width="1.2"/>
<path d="M441.1 210.1 L438.6 214.02 L436.48 210.63 Z" fill="#111"/>
<text x="411.75" y="240.2" font-family="'Liberation Serif', 'Times New Roman', serif" font-weight="bold" font-size="9.9" text-anchor="middle" fill="#111" textLength="58.9" lengthAdjust="spacingAndGlyphs">fluorenyl group</text>
<text x="410.85" y="249.6" font-family="'Liberation Serif', 'Times New Roman', serif" font-weight="bold" font-size="9.9" text-anchor="middle" fill="#111" textLength="81" lengthAdjust="spacingAndGlyphs">1450, 1502, 1629 cm<tspan font-size="5.5" dy="-3.2">-1</tspan></text>
<line x1="517" y1="229" x2="519.81" y2="219.53" stroke="#111" stroke-width="1.2"/>
<path d="M521 215.5 L521.72 220.1 L517.89 218.96 Z" fill="#111"/>
<text x="501.3" y="238.7" font-family="'Liberation Serif', 'Times New Roman', serif" font-weight="bold" font-size="9.9" text-anchor="middle" fill="#111" textLength="29" lengthAdjust="spacingAndGlyphs">O=S=O</text>
<text x="500.9" y="248.4" font-family="'Liberation Serif', 'Times New Roman', serif" font-weight="bold" font-size="9.9" text-anchor="middle" fill="#111" textLength="80.6" lengthAdjust="spacingAndGlyphs">1066, 1155, 1195 cm<tspan font-size="5.5" dy="-3.2">-1</tspan></text>
<line x1="565.3" y1="220" x2="560.54" y2="210.27" stroke="#111" stroke-width="1.2"/>
<path d="M558.7 206.5 L562.34 209.39 L558.75 211.15 Z" fill="#111"/>
<text x="584" y="222" font-family="'Liberation Serif', 'Times New Roman', serif" font-weight="bold" font-size="9.9" text-anchor="middle" fill="#111" textLength="33.6" lengthAdjust="spacingAndGlyphs">Ar-O-Ar</text>
<text x="584" y="231.4" font-family="'Liberation Serif', 'Times New Roman', serif" font-weight="bold" font-size="9.9" text-anchor="middle" fill="#111" textLength="58.8" lengthAdjust="spacingAndGlyphs">1009, 1027 cm<tspan font-size="5.5" dy="-3.2">-1</tspan></text>
<rect x="228.5" y="23.0" width="87" height="32" fill="#fff" stroke="#b4b4b4" stroke-width="0.9"/>
<line x1="229.4" y1="30.6" x2="258.0" y2="30.6" stroke="#111" stroke-width="1.6"/>
<line x1="229.4" y1="46.7" x2="258.0" y2="46.7" stroke="#c43434" stroke-width="1.8"/>
<text x="261" y="35.7" font-family="'Liberation Sans', Arial, sans-serif" font-size="12.3" fill="#111" stroke="#111" stroke-width="0.3">BP-SPES</text>
<text x="261" y="51.7" font-family="'Liberation Sans', Arial, sans-serif" font-size="12.3" fill="#111" stroke="#111" stroke-width="0.3">FL-SPES</text>
<rect x="566.8" y="20.3" width="89" height="33" fill="#fff" stroke="#222" stroke-width="0.9"/>
<line x1="567.3" y1="29.9" x2="596.0" y2="29.9" stroke="#111" stroke-width="1.3"/>
<line x1="567.3" y1="45.3" x2="596.0" y2="45.3" stroke="#c8141c" stroke-width="1.5"/>
<text x="599.8" y="34.6" font-family="'Liberation Sans', Arial, sans-serif" font-size="12.3" fill="#111" stroke="#111" stroke-width="0.3">BP-SPES</text>
<text x="599.8" y="50.0" font-family="'Liberation Sans', Arial, sans-serif" font-size="12.3" fill="#111" stroke="#111" stroke-width="0.3">FL-SPES</text>
</svg>
</body></html>
